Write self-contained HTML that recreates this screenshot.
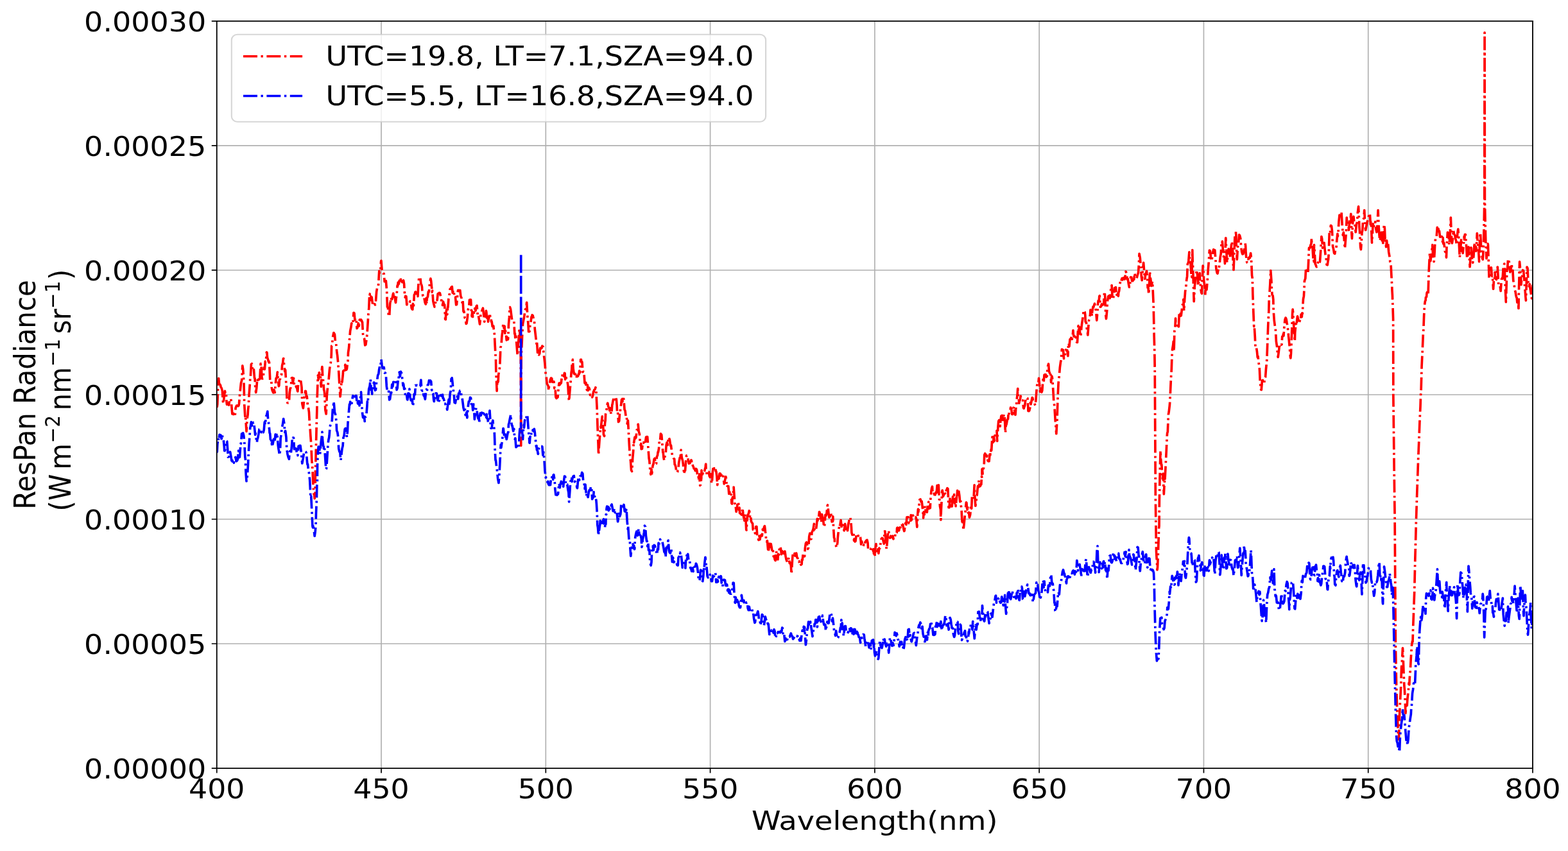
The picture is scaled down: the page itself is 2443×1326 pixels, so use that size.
<!DOCTYPE html>
<html lang="en"><head><meta charset="utf-8"><title>ResPan Radiance spectrum</title>
<style>html,body{margin:0;padding:0;background:#fff;}body{width:2443px;height:1326px;overflow:hidden;}svg{display:block;}text{font-family:'DejaVu Sans','Liberation Sans',sans-serif;fill:#000;}</style>
</head><body>
<svg width="2443" height="1326" viewBox="0 0 2443 1326">
<rect x="0" y="0" width="2443" height="1326" fill="#fff"/>
<path d="M594.03 32.85V1197.05M850.31 32.85V1197.05M1106.59 32.85V1197.05M1362.88 32.85V1197.05M1619.16 32.85V1197.05M1875.44 32.85V1197.05M2131.72 32.85V1197.05" stroke="#b0b0b0" stroke-width="1.66" fill="none"/>
<path d="M337.75 1003.02H2388.00M337.75 808.98H2388.00M337.75 614.95H2388.00M337.75 420.92H2388.00M337.75 226.88H2388.00" stroke="#b0b0b0" stroke-width="1.55" fill="none"/>
<clipPath id="ax"><rect x="309.86" y="32.85" width="1880.96" height="1164.20"/></clipPath>
<g transform="scale(1.0900,1)" clip-path="url(#ax)"><path d="M309.9 633.9L310.3 633.7L310.8 629.9L311.8 598.0L312.5 589.5L313.7 601.9L314.7 595.9L315.5 602.6L316.6 604.5L317.8 609.1L318.5 624.3L319.3 628.8L320.5 617.0L321.5 609.1L322.4 616.1L323.3 614.8L323.8 625.5L324.3 630.4L325.3 628.5L326.2 628.0L326.8 630.4L327.2 631.2L328.2 623.5L329.1 623.3L329.8 622.2L330.1 621.4L331.1 633.5L332.0 645.1L333.0 644.3L333.9 644.3L335.0 649.2L335.9 648.5L336.8 635.5L338.1 632.0L338.8 631.8L339.7 632.8L340.7 632.8L341.1 632.0L341.7 629.6L342.6 616.9L343.3 609.1L344.5 596.6L345.6 592.8L346.6 569.8L347.4 575.3L348.6 596.0L349.3 630.4L350.3 648.9L350.8 646.8L351.3 654.9L352.3 672.2L353.2 652.8L354.2 646.6L354.6 638.6L355.1 633.9L356.1 614.0L357.1 599.7L357.6 589.5L358.0 589.5L359.1 567.4L360.0 566.6L360.9 575.1L361.3 576.4L361.9 578.1L362.8 575.9L363.8 589.4L364.3 589.5L364.8 601.5L365.8 611.6L366.7 605.0L367.7 590.5L368.1 590.3L368.6 595.9L369.6 590.9L370.6 591.1L371.1 591.1L371.5 588.4L372.6 566.5L373.4 569.4L374.4 590.0L374.9 589.5L375.4 589.9L376.3 586.8L377.3 572.6L377.9 574.7L378.3 575.5L379.2 562.9L380.1 563.3L381.1 548.7L381.6 549.5L382.1 556.9L383.1 560.4L384.0 564.0L384.6 560.0L385.0 567.9L385.4 576.4L386.1 594.4L386.9 594.3L387.9 594.2L388.4 604.2L388.9 607.3L389.8 610.1L390.8 612.1L391.7 607.2L392.9 611.6L393.6 600.9L394.6 589.3L395.6 589.2L396.6 579.6L397.5 592.9L398.5 601.7L398.9 600.9L399.4 591.7L400.4 590.7L401.1 586.2L402.3 583.9L403.3 569.4L404.3 565.2L404.9 559.2L405.2 558.4L406.2 569.4L407.2 578.8L407.9 576.4L409.1 599.6L409.4 599.3L410.2 625.5L411.0 627.9L412.0 627.9L413.2 627.1L413.9 612.5L414.7 605.9L415.8 603.5L416.8 589.1L417.7 588.6L418.7 596.9L419.7 589.2L420.6 600.1L421.4 599.3L422.6 598.7L423.5 603.5L424.5 604.4L425.2 609.1L425.5 609.9L426.4 596.5L427.4 594.2L428.2 591.1L429.3 590.3L430.3 595.9L431.2 603.4L431.9 628.8L433.4 636.1L434.1 628.7L435.1 615.0L436.1 614.7L436.4 609.1L437.0 609.3L438.0 618.3L438.7 617.3L439.9 633.0L440.2 633.7L440.9 636.2L441.7 641.9L442.8 665.7L443.2 666.4L443.8 677.7L444.7 691.0L445.7 717.3L446.2 723.7L446.7 730.8L447.7 756.5L448.6 770.0L449.2 769.6L449.7 776.8L450.6 770.0L450.7 740.1L451.5 707.4L452.4 665.9L453.0 641.9L453.4 618.2L453.7 609.1L454.5 584.6L455.3 591.3L456.3 580.5L456.7 581.3L457.2 582.4L458.2 588.5L459.0 602.6L460.1 574.6L460.5 571.5L461.1 584.5L462.0 592.8L463.0 607.4L463.5 609.1L464.0 613.2L465.0 638.6L466.2 645.1L466.9 624.8L467.2 617.3L467.8 609.5L468.7 600.9L469.8 592.3L471.0 576.4L471.7 570.5L472.7 565.6L473.2 560.0L473.6 554.8L474.0 538.8L474.6 538.4L475.6 526.1L476.5 520.8L477.0 518.4L477.5 519.2L478.4 521.0L479.3 532.3L480.4 535.6L481.5 548.6L482.3 554.3L483.3 565.9L483.8 574.7L484.2 579.7L485.3 600.9L486.3 618.1L487.1 609.0L488.3 592.8L489.0 595.3L490.0 585.8L490.5 578.0L491.0 581.2L491.9 577.6L492.9 571.8L493.5 568.2L493.9 576.7L495.0 576.4L495.8 574.8L496.7 565.8L497.3 562.5L497.7 549.5L498.7 542.1L499.5 529.8L500.6 515.6L501.8 509.4L502.5 503.6L503.5 505.7L504.0 504.4L504.4 504.3L505.5 487.2L506.4 487.9L507.3 498.7L507.8 497.9L508.3 500.5L509.3 498.7L510.2 511.8L510.8 511.0L511.2 508.3L512.2 503.6L513.1 508.1L514.1 497.9L514.6 498.7L515.0 502.4L516.0 497.9L517.0 499.6L517.6 502.0L517.9 501.7L518.9 521.6L519.8 525.7L520.8 527.8L521.8 538.0L522.8 537.2L523.7 530.0L524.7 521.4L525.1 514.3L525.6 506.1L526.6 488.3L527.3 480.7L528.1 458.6L528.5 457.8L529.5 467.7L530.3 461.9L531.4 463.1L532.6 474.1L533.3 475.8L534.3 475.8L535.3 473.4L536.3 475.0L537.2 468.4L538.2 454.4L538.6 452.0L539.1 448.6L540.1 447.7L540.8 445.5L542.0 422.3L542.3 425.9L543.0 420.4L543.9 420.0L544.6 407.0L544.9 406.2L545.9 420.2L546.9 423.4L547.8 426.2L548.8 426.2L549.7 438.9L550.6 438.1L551.7 437.6L552.9 453.7L553.6 478.2L554.5 479.4L555.5 493.0L556.6 492.2L557.4 474.6L558.1 466.8L558.4 471.7L559.4 465.5L560.3 466.4L561.3 461.2L561.9 457.8L562.2 457.1L563.2 466.7L564.2 458.7L565.1 469.0L565.6 471.7L566.1 465.5L567.1 458.8L568.0 444.8L568.6 445.5L569.0 440.0L570.0 442.6L570.9 437.2L571.9 440.2L572.8 434.8L573.1 432.4L573.8 437.8L574.8 439.7L575.7 439.7L576.7 436.8L577.6 442.2L578.6 460.6L579.1 463.5L579.6 461.1L580.6 461.7L581.5 474.9L582.1 474.1L582.5 474.3L583.4 474.9L584.4 471.8L585.4 472.1L585.9 470.1L586.3 469.2L587.3 470.4L588.3 480.1L589.2 482.0L589.7 482.3L590.2 473.1L591.1 478.9L592.1 459.2L593.1 457.9L593.4 455.3L594.0 454.5L595.0 461.6L596.0 456.2L597.2 461.9L597.9 446.6L598.9 432.6L599.4 432.4L599.8 431.6L600.8 432.8L601.7 442.1L602.7 444.5L603.2 447.1L603.7 456.8L604.6 461.5L605.6 462.7L606.2 461.9L606.6 465.8L607.5 471.5L608.5 474.1L609.4 464.2L609.9 473.3L610.4 464.4L611.4 462.5L612.3 454.5L612.9 455.3L613.3 453.9L614.3 440.5L615.5 434.0L616.2 437.9L617.2 448.7L617.4 455.3L618.1 453.0L619.1 469.1L620.0 473.6L621.2 478.2L622.0 477.0L622.9 466.0L623.9 466.8L624.2 466.8L624.9 467.6L625.8 457.8L626.8 456.9L627.2 456.9L627.8 456.1L628.7 456.3L629.7 460.9L630.6 466.1L631.0 468.4L631.6 468.9L632.6 475.8L633.5 469.9L634.7 475.0L635.5 474.8L636.4 497.4L637.0 497.9L637.4 488.2L638.3 482.4L639.3 490.0L640.0 478.2L640.3 479.0L641.2 465.6L642.2 460.4L643.2 450.3L644.1 450.2L645.2 447.3L646.1 446.5L647.0 456.3L648.2 452.2L648.9 456.5L649.7 463.7L650.9 462.9L652.0 475.1L652.8 474.7L653.8 461.4L654.2 455.5L654.7 452.2L655.7 452.2L656.7 453.0L657.2 453.0L657.6 452.2L658.6 461.6L659.5 463.7L660.5 471.1L661.0 471.9L661.5 467.2L662.4 485.2L663.2 485.0L664.4 495.3L665.5 496.4L666.3 504.6L667.0 503.8L668.2 494.5L669.2 481.7L670.1 480.4L671.1 467.2L672.2 466.9L673.0 467.0L673.7 481.7L674.5 493.1L675.0 485.2L675.9 493.9L676.9 490.3L677.5 486.6L677.8 487.4L678.8 480.5L679.8 484.2L681.0 476.8L681.7 476.0L682.8 491.5L683.6 490.2L684.6 496.4L685.8 505.4L686.5 497.6L687.3 488.2L688.4 485.9L689.4 482.4L690.3 480.1L691.3 488.9L692.5 501.3L693.3 497.0L694.2 495.9L694.8 484.1L695.2 485.8L696.1 497.4L697.1 490.4L697.8 501.3L698.1 497.8L699.0 495.0L700.0 488.2L701.0 495.6L701.9 495.2L702.3 501.3L702.9 501.1L703.9 508.7L704.8 509.2L705.3 507.9L705.8 513.5L706.8 521.0L707.5 537.4L708.3 553.7L708.7 559.0L709.0 578.3L709.8 597.9L710.2 609.2L710.6 598.4L711.0 601.2L711.6 593.1L712.1 594.7L712.5 583.8L713.6 578.3L714.4 571.4L715.1 553.7L715.4 541.9L716.6 537.4L717.3 525.0L718.1 517.7L719.3 503.8L719.6 504.6L720.2 511.2L721.2 508.0L721.8 519.4L722.2 514.0L723.1 518.8L724.1 530.0L725.0 525.3L726.0 529.1L726.3 527.5L727.1 504.6L727.9 494.9L728.6 479.2L728.9 478.4L729.9 481.9L730.8 489.9L731.8 498.2L732.8 500.1L733.8 499.7L734.7 501.1L735.6 520.4L736.1 519.4L736.6 528.1L737.6 523.9L738.3 534.1L739.5 551.2L739.8 553.7L740.5 538.8L741.3 529.2L742.4 512.5L742.8 511.2L743.3 525.3L744.3 553.7L744.7 694.5L745.1 553.7L746.2 529.2L747.3 504.6L748.2 499.5L749.1 494.9L749.6 491.5L750.1 483.8L751.1 481.7L752.0 480.8L752.9 471.1L754.1 494.8L754.9 503.0L755.6 516.9L756.8 516.8L757.9 504.6L758.8 500.9L759.7 493.4L760.1 494.8L760.7 490.7L761.6 491.5L762.6 496.3L763.6 499.5L763.9 503.0L764.5 513.0L765.4 521.0L766.5 531.6L766.9 535.7L767.4 531.3L768.4 549.3L769.4 542.1L769.9 552.1L770.3 552.9L771.3 551.0L772.1 542.3L773.2 543.1L774.2 542.7L775.1 539.0L776.1 539.9L777.1 550.6L777.4 553.7L778.0 558.3L778.9 566.8L780.0 582.7L780.4 586.4L780.9 587.5L781.9 597.8L782.7 599.5L783.8 601.6L784.2 608.5L784.8 601.9L785.7 598.2L786.4 592.9L786.7 591.3L787.7 588.9L788.7 589.6L789.6 595.4L790.6 595.4L791.7 594.6L792.5 605.2L793.4 603.9L793.9 609.3L794.4 618.7L795.4 620.7L796.2 619.9L797.3 619.0L798.4 602.8L799.2 597.0L800.2 599.5L801.1 596.5L801.4 597.8L802.1 596.7L803.1 587.2L803.7 588.0L804.0 581.0L805.0 585.3L806.0 586.3L806.9 581.1L807.4 581.5L807.9 591.2L808.9 586.1L809.7 591.3L810.8 592.8L811.9 601.1L812.7 618.1L813.4 624.9L814.6 608.4L815.7 594.6L816.6 580.6L817.2 576.5L817.5 569.7L818.7 560.3L819.4 574.5L820.4 582.3L821.0 581.5L821.4 584.8L822.3 581.3L823.3 588.9L824.0 588.8L824.3 586.1L825.2 585.5L826.2 586.1L827.2 582.4L827.7 583.1L828.1 577.6L829.1 580.3L830.0 560.1L830.7 560.2L831.0 564.5L832.0 563.7L833.0 579.8L833.9 579.0L834.9 582.0L835.2 588.0L835.8 597.0L836.8 597.3L837.5 596.2L837.8 604.2L839.0 607.7L839.7 599.7L840.6 608.5L841.6 603.8L842.0 604.4L842.6 606.0L843.5 615.6L844.2 615.9L845.5 615.0L846.5 619.1L847.4 616.1L848.3 610.1L848.7 610.9L849.3 607.6L850.3 607.1L851.3 603.6L852.2 608.5L852.5 617.5L853.3 635.5L854.0 660.0L854.8 684.6L855.1 691.7L855.5 708.4L856.1 698.4L857.0 684.6L858.0 671.5L858.5 665.0L858.9 666.6L859.9 657.1L860.8 648.6L861.8 662.4L862.3 666.6L862.8 677.1L863.8 679.7L864.7 659.2L865.3 655.1L865.7 644.7L866.8 640.4L867.6 632.3L868.3 628.9L868.6 628.1L869.5 633.5L870.5 635.5L871.5 639.8L872.4 635.8L873.5 645.3L874.4 640.7L875.0 630.6L875.3 630.2L876.3 623.9L877.3 620.8L878.2 621.6L879.2 624.5L879.5 619.1L880.1 618.3L881.1 622.9L881.8 632.2L882.1 642.0L883.0 640.7L884.0 657.6L885.0 656.1L885.9 643.1L886.3 643.7L886.9 636.0L887.8 629.9L888.6 622.4L889.8 625.9L890.1 618.3L890.7 617.5L891.7 623.0L892.3 632.2L892.7 638.3L893.6 640.1L894.6 648.6L895.6 647.8L896.5 660.2L897.6 655.1L898.3 668.2L899.4 692.8L900.6 714.1L901.3 716.9L902.3 732.5L902.8 733.7L903.3 734.5L904.3 714.1L905.2 703.3L905.8 687.9L906.1 689.8L907.3 681.3L908.1 683.3L909.0 682.1L909.6 676.4L910.0 670.2L911.0 670.0L912.1 660.9L912.9 671.7L914.1 676.4L914.8 687.4L915.8 694.0L916.3 691.2L916.7 699.8L917.8 699.4L918.7 689.8L919.6 690.5L920.8 687.9L921.6 685.6L922.5 688.5L923.5 680.9L923.9 681.3L924.4 680.5L925.4 680.5L926.1 691.2L927.6 714.1L928.3 718.3L929.1 730.5L930.2 739.4L931.2 731.0L931.8 741.1L932.2 732.5L933.1 725.6L933.6 723.9L934.1 722.4L935.0 715.5L935.9 714.1L937.0 723.1L938.1 722.3L938.9 711.4L939.9 709.4L940.4 704.3L940.8 704.8L941.8 698.8L942.6 684.6L943.7 685.2L944.4 675.6L945.6 677.4L946.4 687.9L947.6 705.4L947.9 704.3L948.5 712.7L949.4 717.4L950.5 710.7L951.6 705.9L952.4 693.5L953.3 689.4L953.9 691.2L954.3 693.5L955.3 681.4L956.1 682.2L957.2 684.9L958.4 694.4L959.1 693.7L959.9 701.0L961.1 710.8L962.2 712.5L963.0 714.4L963.9 714.9L964.4 723.9L964.9 724.0L965.9 727.5L966.7 733.7L967.8 736.2L968.5 735.4L968.8 730.3L969.7 729.0L970.4 720.6L971.7 713.2L972.6 712.5L973.4 701.0L974.5 712.8L975.7 717.4L976.5 723.4L977.4 733.7L977.9 738.6L978.4 734.5L979.4 733.2L980.2 720.6L981.3 709.6L982.4 710.0L983.2 713.2L984.2 719.9L984.7 722.3L985.1 720.8L986.1 721.8L987.1 719.1L988.0 716.8L988.4 717.4L989.0 723.0L990.0 722.5L990.7 728.8L990.8 726.2L991.9 730.2L993.1 731.1L993.8 733.5L994.8 730.3L995.7 731.0L996.1 732.8L996.7 738.5L997.7 740.1L998.3 739.3L998.6 748.7L999.6 738.8L1000.6 756.5L1001.3 755.7L1002.5 745.3L1002.8 732.8L1003.4 740.5L1004.4 738.5L1005.1 737.7L1005.4 738.5L1006.3 738.5L1007.3 732.8L1008.3 728.0L1008.9 722.9L1009.2 731.5L1010.4 739.3L1011.1 738.5L1012.1 735.2L1013.1 735.2L1013.4 736.0L1014.0 741.7L1015.0 743.7L1015.6 740.9L1016.0 738.6L1017.1 753.2L1017.9 749.5L1018.6 736.0L1019.8 726.2L1020.1 727.0L1020.8 730.8L1021.7 728.7L1022.7 728.8L1023.1 734.4L1023.7 734.4L1024.6 741.8L1025.4 755.7L1026.6 745.0L1027.6 745.9L1028.5 737.7L1029.4 737.7L1029.9 738.5L1030.4 741.4L1031.4 739.4L1032.3 737.7L1033.3 740.4L1033.6 740.1L1034.3 746.6L1035.1 754.0L1036.2 748.6L1037.4 742.6L1038.1 745.8L1038.9 758.9L1040.0 757.1L1041.1 757.3L1042.0 769.5L1042.7 768.8L1042.9 766.5L1043.9 767.0L1044.9 765.5L1045.8 784.5L1046.4 785.1L1046.8 776.4L1047.8 773.1L1048.7 758.9L1049.7 774.3L1050.2 781.9L1050.6 789.8L1051.6 789.6L1052.4 797.4L1053.5 790.4L1054.7 781.9L1055.5 782.9L1056.4 794.7L1056.9 790.9L1057.4 799.7L1058.3 799.7L1059.2 801.5L1060.3 802.3L1061.4 791.7L1062.2 800.5L1063.2 807.2L1063.7 806.4L1064.1 811.3L1065.2 801.5L1066.1 811.6L1066.7 825.3L1067.0 826.1L1068.2 806.4L1068.9 802.2L1069.9 800.8L1070.9 795.8L1071.2 796.6L1071.8 805.0L1072.8 802.2L1073.4 808.1L1073.8 812.5L1074.9 814.6L1075.7 815.4L1076.4 825.3L1077.6 825.1L1078.6 827.5L1079.4 831.0L1080.5 820.4L1081.0 821.2L1081.5 820.4L1082.4 835.1L1083.2 835.9L1084.4 841.6L1085.3 835.1L1086.2 840.8L1087.2 834.3L1088.2 834.6L1089.2 835.1L1090.1 824.7L1091.1 829.9L1091.5 826.1L1092.1 821.4L1093.0 819.5L1094.0 828.3L1094.5 831.0L1095.0 839.9L1095.9 844.1L1096.7 842.5L1097.8 856.4L1098.8 856.7L1099.7 844.1L1100.7 852.5L1101.7 848.4L1102.0 847.4L1102.7 851.8L1103.5 857.2L1104.6 854.6L1105.7 867.0L1106.5 866.2L1107.5 871.8L1108.0 872.7L1108.4 873.5L1109.5 858.8L1110.4 862.8L1111.3 861.5L1111.8 871.9L1112.3 863.1L1113.3 864.5L1114.3 852.3L1115.2 851.5L1116.1 855.3L1117.0 863.7L1118.1 858.7L1119.0 860.5L1120.0 857.2L1121.0 865.7L1121.9 859.0L1123.0 867.0L1123.9 871.9L1124.8 874.5L1125.3 876.0L1125.8 873.7L1126.7 872.5L1127.5 868.6L1128.7 877.9L1129.8 876.8L1130.6 881.7L1131.3 894.0L1131.6 889.2L1132.8 868.6L1133.5 861.3L1134.4 865.2L1135.4 867.6L1135.8 862.1L1136.4 866.2L1137.3 863.4L1138.3 861.9L1138.8 865.4L1139.3 868.7L1140.2 869.6L1141.0 875.2L1142.2 874.4L1143.3 880.1L1144.1 878.4L1145.0 880.1L1146.0 879.0L1146.3 871.9L1147.0 872.7L1147.8 863.7L1148.9 863.2L1150.1 867.0L1150.8 853.9L1151.8 846.4L1152.8 844.9L1153.1 845.7L1153.7 849.0L1154.6 855.5L1155.6 853.4L1156.1 845.7L1156.6 836.1L1157.6 831.0L1158.5 840.1L1159.5 840.0L1159.8 839.2L1160.5 829.5L1161.3 827.7L1162.4 824.4L1163.6 816.2L1164.3 826.2L1165.1 826.1L1166.2 826.9L1167.3 817.9L1168.2 808.2L1169.1 813.9L1169.6 806.4L1170.1 807.8L1171.1 797.4L1172.0 799.8L1173.0 807.2L1173.3 813.0L1173.9 813.8L1174.8 801.5L1175.9 806.1L1176.8 811.2L1177.8 821.2L1178.8 817.7L1179.3 809.7L1179.7 802.2L1180.7 803.6L1181.6 799.9L1182.6 788.7L1183.1 786.8L1183.6 791.6L1184.5 801.0L1185.3 806.4L1186.5 804.6L1187.6 798.2L1188.4 804.9L1189.1 813.0L1190.3 812.6L1190.6 804.8L1191.4 822.8L1192.2 837.9L1192.9 839.2L1193.2 848.6L1194.4 849.8L1195.1 850.6L1195.9 853.1L1197.1 845.7L1197.4 839.2L1198.0 832.3L1198.9 826.1L1200.0 816.6L1200.4 817.9L1200.9 817.7L1201.9 810.5L1202.8 820.3L1203.8 823.1L1204.1 819.5L1204.8 818.0L1205.7 819.8L1206.4 826.1L1206.7 826.9L1207.9 816.2L1208.6 821.7L1209.6 826.9L1210.1 826.1L1210.6 820.8L1211.5 826.9L1212.4 817.9L1213.4 812.8L1214.4 806.6L1215.4 806.4L1216.3 813.1L1216.9 821.2L1217.3 830.1L1218.3 833.4L1219.1 829.4L1220.2 831.7L1220.7 842.5L1221.1 839.7L1222.1 844.1L1222.9 843.3L1224.0 833.5L1224.4 834.3L1225.0 832.6L1226.0 832.6L1226.9 835.1L1228.2 833.4L1228.9 833.5L1229.8 837.2L1230.4 842.5L1230.8 848.2L1231.7 843.4L1232.7 849.0L1233.7 851.4L1234.6 848.8L1235.7 850.6L1236.6 844.9L1237.5 843.4L1238.7 841.6L1239.4 841.3L1240.4 845.8L1240.9 855.5L1241.4 856.4L1242.3 856.4L1243.3 854.8L1243.9 854.7L1244.3 855.4L1245.2 855.5L1246.2 853.9L1247.2 853.1L1248.1 858.7L1248.4 855.5L1249.1 862.9L1250.0 857.0L1250.7 867.0L1251.0 857.1L1252.2 847.4L1252.9 856.2L1253.9 861.8L1254.4 862.1L1254.9 855.6L1255.8 862.3L1256.7 853.9L1257.8 854.2L1259.0 844.1L1259.7 839.8L1260.6 838.4L1261.2 839.2L1261.6 838.4L1262.6 843.2L1263.5 847.4L1264.5 827.6L1265.0 827.7L1265.5 834.5L1266.4 847.7L1267.2 855.5L1268.3 842.9L1269.5 827.7L1270.3 826.9L1271.2 837.4L1271.7 837.5L1272.2 838.3L1273.2 835.1L1274.1 836.6L1274.7 835.9L1275.1 837.6L1276.1 835.1L1277.0 840.0L1277.7 839.2L1278.9 840.0L1280.0 829.4L1280.9 830.1L1281.8 829.9L1282.2 822.8L1282.8 822.0L1283.8 826.5L1284.7 826.9L1285.2 826.1L1285.7 820.4L1286.7 824.1L1287.5 817.9L1288.6 816.3L1289.5 818.7L1290.5 817.1L1291.5 823.6L1292.4 827.7L1292.8 826.9L1293.4 820.9L1294.4 815.0L1295.0 811.3L1295.3 817.5L1296.3 805.6L1297.3 806.4L1298.2 805.6L1299.2 815.4L1300.3 814.6L1301.1 815.4L1302.1 802.4L1302.5 804.8L1303.0 810.2L1304.0 803.1L1305.0 803.0L1305.9 806.4L1306.9 807.2L1307.8 806.4L1308.8 805.6L1309.8 808.4L1310.8 821.2L1311.7 801.4L1312.3 793.3L1312.7 797.8L1313.6 789.2L1314.5 778.6L1315.6 777.8L1316.5 781.9L1317.5 781.0L1318.4 788.4L1319.4 800.2L1319.8 807.2L1320.4 797.5L1321.3 801.8L1322.0 788.4L1323.3 797.2L1324.2 794.9L1325.1 798.2L1326.1 786.5L1327.3 781.9L1328.1 792.5L1329.0 787.8L1329.6 791.7L1330.0 779.4L1331.1 765.5L1331.9 760.0L1332.6 758.1L1332.9 763.4L1333.9 769.5L1334.8 770.4L1335.8 766.3L1336.7 771.2L1337.8 767.1L1338.7 767.9L1339.6 756.2L1340.1 762.2L1340.6 765.3L1341.6 755.7L1342.5 777.7L1343.1 778.6L1343.5 788.4L1344.5 794.1L1344.8 810.1L1345.3 794.1L1345.9 781.9L1346.4 766.2L1347.0 763.9L1347.3 766.3L1348.1 773.7L1349.3 770.2L1350.0 765.5L1351.1 769.6L1352.2 770.4L1352.6 763.9L1353.1 763.4L1354.1 760.6L1354.9 761.4L1355.7 781.9L1356.0 790.9L1356.4 790.0L1357.0 790.9L1357.9 775.3L1358.9 781.3L1359.9 780.3L1360.2 789.2L1360.8 789.1L1362.0 773.7L1362.8 776.3L1363.9 770.4L1364.7 784.2L1365.6 776.7L1366.2 788.8L1366.6 783.9L1367.6 772.8L1368.0 772.0L1368.5 764.1L1369.5 770.8L1370.3 764.3L1371.4 772.3L1372.2 781.9L1373.3 781.1L1373.7 788.4L1374.3 791.8L1374.8 804.8L1375.3 812.8L1376.3 814.6L1377.1 826.1L1378.2 814.6L1379.3 802.3L1380.1 795.5L1380.4 790.0L1381.1 782.7L1381.6 783.5L1382.0 791.0L1382.7 794.1L1383.0 788.8L1383.9 799.2L1384.9 798.2L1385.7 806.4L1386.8 802.1L1387.2 797.4L1387.8 787.5L1388.7 792.5L1389.4 773.7L1389.7 773.5L1390.6 772.0L1391.7 777.8L1392.8 755.7L1393.6 775.7L1394.3 788.4L1395.5 779.8L1395.8 772.0L1396.5 771.7L1397.0 765.5L1397.7 757.3L1398.4 759.4L1399.2 748.3L1400.3 758.1L1400.7 756.5L1401.3 757.3L1402.2 753.8L1402.6 754.9L1403.2 742.0L1403.7 745.0L1403.7 731.1L1404.2 730.4L1404.5 738.5L1405.1 731.1L1406.0 729.5L1406.7 722.1L1407.1 708.5L1407.5 708.2L1408.0 706.6L1408.6 707.4L1409.0 708.5L1410.0 706.6L1410.5 711.5L1410.9 710.0L1412.0 718.0L1412.8 718.8L1413.5 716.4L1413.8 718.8L1415.0 704.1L1415.7 709.1L1416.7 700.2L1417.2 701.6L1417.6 693.9L1418.3 680.8L1418.6 684.9L1419.6 689.2L1420.6 680.1L1421.3 687.4L1422.5 676.6L1423.6 675.9L1424.4 674.9L1424.8 671.0L1425.4 687.4L1426.6 664.4L1427.3 656.0L1428.1 654.6L1429.2 657.2L1429.6 664.4L1430.2 655.7L1431.1 648.1L1432.1 647.3L1433.3 654.6L1434.0 651.1L1435.0 645.6L1435.6 646.4L1436.0 649.3L1437.1 674.3L1437.9 662.8L1438.6 661.2L1439.8 654.0L1440.8 653.0L1441.7 642.1L1442.3 644.8L1442.7 642.8L1443.7 642.0L1444.6 635.0L1445.6 637.4L1446.6 645.6L1446.9 644.8L1447.5 645.6L1448.5 635.9L1449.4 633.4L1449.9 634.1L1450.4 643.0L1451.4 646.4L1452.3 632.6L1452.9 631.7L1453.3 623.1L1454.3 614.1L1454.8 605.5L1455.2 618.7L1456.2 619.8L1456.6 628.4L1457.2 625.2L1458.1 622.8L1458.9 617.0L1460.0 623.3L1461.1 623.5L1462.0 623.9L1462.9 635.6L1463.4 636.6L1463.9 634.6L1464.9 631.6L1465.6 625.1L1466.8 619.4L1467.9 620.2L1468.7 620.6L1469.4 631.7L1469.7 640.5L1470.6 640.7L1471.3 639.9L1472.6 633.9L1473.1 623.5L1473.5 630.0L1474.5 624.3L1475.5 619.4L1476.1 620.2L1476.4 624.2L1477.4 626.1L1478.4 626.8L1479.3 630.7L1479.9 631.7L1480.3 629.6L1481.4 612.0L1482.2 601.3L1482.9 597.3L1484.1 598.0L1484.9 589.1L1486.1 601.8L1486.7 610.4L1487.0 604.6L1488.0 608.0L1488.9 611.2L1489.7 608.8L1490.9 591.3L1491.2 592.4L1491.8 596.0L1492.7 584.2L1493.8 583.4L1494.7 583.5L1495.7 587.5L1496.7 585.6L1497.2 572.8L1497.6 571.4L1498.7 567.0L1499.5 578.5L1500.5 581.5L1500.9 579.3L1501.5 579.1L1502.4 595.7L1503.4 585.9L1503.9 587.5L1504.4 591.6L1505.4 608.8L1506.3 626.9L1506.9 630.0L1507.2 632.5L1508.4 654.6L1509.2 664.4L1509.9 675.9L1511.0 654.6L1511.9 621.9L1512.9 597.3L1514.0 585.6L1514.4 580.9L1515.0 572.6L1516.0 564.6L1516.9 560.0L1517.4 549.8L1517.8 544.1L1519.0 544.9L1519.8 545.3L1520.7 558.8L1521.2 558.0L1521.7 556.9L1522.7 549.8L1523.5 544.9L1524.6 546.5L1525.6 545.8L1526.5 554.7L1527.1 536.8L1527.5 534.8L1528.4 539.8L1529.4 528.6L1530.4 528.0L1531.3 525.6L1531.6 523.7L1532.3 528.6L1533.3 523.1L1533.9 514.7L1534.2 521.0L1535.2 524.4L1536.1 523.7L1537.1 529.0L1538.1 525.7L1539.0 533.4L1539.9 533.6L1541.0 512.3L1541.4 507.4L1541.9 515.3L1542.9 509.7L1543.9 520.2L1544.4 523.7L1544.8 524.5L1545.8 509.9L1546.7 502.4L1547.7 495.6L1548.9 484.4L1549.6 483.6L1550.6 485.9L1551.2 491.0L1551.6 501.4L1552.7 502.4L1553.5 512.2L1554.4 516.0L1554.9 522.1L1555.4 514.7L1556.4 499.2L1557.3 496.8L1558.3 490.0L1558.7 482.8L1559.3 490.7L1560.2 486.3L1560.9 492.6L1561.2 485.7L1562.4 477.9L1563.1 478.6L1564.1 474.7L1564.7 473.0L1565.0 477.3L1566.0 480.1L1567.0 490.1L1567.7 499.2L1568.9 483.3L1569.2 474.6L1569.9 468.4L1570.8 469.2L1571.4 461.5L1571.8 460.7L1572.8 478.3L1573.7 477.9L1574.7 473.8L1575.6 475.4L1576.7 474.6L1577.6 473.7L1578.5 454.6L1578.9 455.0L1579.5 460.8L1580.5 490.9L1581.2 496.7L1582.4 483.1L1582.7 471.3L1583.3 467.6L1584.2 461.5L1585.3 460.7L1586.4 464.8L1587.2 459.9L1588.2 445.9L1588.7 445.1L1589.1 444.6L1590.1 465.1L1591.0 466.4L1592.0 459.9L1593.2 448.4L1593.9 450.2L1594.9 447.6L1595.5 456.6L1595.9 455.4L1596.8 462.3L1597.8 457.3L1598.5 461.5L1598.8 456.3L1599.7 453.2L1600.7 443.5L1601.7 436.5L1602.6 438.2L1603.7 433.7L1604.5 436.1L1605.5 432.9L1606.5 434.5L1607.5 435.3L1608.4 428.9L1609.0 423.0L1609.4 423.2L1610.3 426.6L1611.2 435.3L1612.2 434.5L1613.2 442.4L1614.2 447.6L1615.0 446.8L1616.1 431.8L1617.2 432.0L1618.0 437.8L1619.0 437.8L1619.5 436.9L1620.0 435.2L1620.9 435.6L1621.8 425.5L1622.8 431.0L1623.8 431.6L1624.8 433.7L1625.7 429.6L1626.7 426.1L1627.0 425.5L1627.7 415.3L1628.5 395.2L1629.6 401.5L1630.8 417.3L1631.5 430.5L1632.3 436.9L1633.4 422.3L1634.5 409.1L1635.4 421.1L1636.3 434.5L1636.8 433.7L1637.3 426.8L1638.3 424.6L1639.0 422.2L1640.2 438.8L1640.5 448.4L1641.1 445.3L1642.0 458.2L1643.1 435.8L1643.5 423.0L1644.0 429.8L1645.0 436.9L1646.0 445.6L1646.9 439.9L1647.3 438.6L1648.0 455.0L1648.8 474.6L1649.2 495.9L1649.7 523.7L1650.3 548.3L1650.7 577.0L1650.7 577.0L1651.2 680.0L1651.7 777.0L1652.8 860.0L1653.7 877.0L1654.1 888.0L1654.6 884.1L1655.5 860.0L1656.6 821.6L1656.9 820.0L1657.2 780.0L1657.8 745.0L1658.5 712.8L1658.8 702.4L1659.4 717.7L1660.1 725.0L1660.4 723.9L1661.7 746.0L1662.6 738.0L1663.6 770.0L1664.3 755.3L1665.0 745.0L1665.2 746.4L1666.1 727.0L1667.2 702.4L1668.1 679.6L1668.5 674.6L1669.1 673.0L1670.0 646.3L1670.8 641.9L1672.0 630.5L1673.0 609.0L1673.9 587.0L1674.6 575.0L1675.1 556.5L1675.8 543.7L1676.8 537.6L1677.3 531.9L1677.8 539.9L1678.1 546.7L1678.8 515.5L1679.7 512.0L1680.3 495.9L1680.6 501.3L1681.6 500.8L1682.6 505.7L1683.5 508.0L1684.5 505.6L1684.8 509.0L1685.6 487.7L1686.4 496.6L1687.4 488.5L1687.8 491.0L1688.3 491.8L1689.3 482.8L1690.1 474.6L1691.2 475.1L1691.6 466.4L1692.4 484.4L1693.2 468.0L1693.9 458.2L1694.1 454.5L1695.4 445.1L1696.1 436.2L1696.9 430.4L1697.6 409.1L1698.0 411.7L1698.9 406.7L1699.9 392.8L1700.9 406.7L1701.4 405.9L1701.8 410.5L1702.8 427.7L1703.6 432.0L1704.4 389.5L1704.7 404.7L1705.1 414.0L1705.7 435.4L1706.6 469.7L1707.6 446.3L1708.1 441.9L1708.6 433.4L1709.5 431.8L1710.4 420.6L1711.5 427.6L1712.6 445.1L1713.4 439.5L1714.4 435.0L1714.9 425.5L1715.3 435.0L1716.4 450.1L1717.2 456.0L1717.9 457.4L1718.2 444.3L1719.4 414.0L1720.1 420.1L1720.9 438.6L1722.1 446.0L1722.7 461.5L1723.0 452.6L1724.0 450.7L1724.7 451.7L1725.0 448.7L1726.2 432.0L1726.9 419.7L1727.7 409.1L1728.8 389.9L1729.2 390.3L1729.8 391.4L1730.7 400.6L1731.4 405.9L1731.7 406.6L1732.7 401.1L1733.7 392.8L1734.6 388.7L1735.6 389.7L1735.9 389.5L1736.5 389.6L1737.4 402.6L1738.4 418.6L1739.7 425.5L1740.4 426.3L1741.3 420.4L1741.9 417.3L1742.3 418.4L1743.3 410.6L1744.2 400.9L1745.2 395.0L1746.1 375.9L1746.4 376.4L1747.1 376.0L1748.1 389.8L1748.7 389.5L1749.0 400.1L1750.0 397.6L1750.9 410.8L1752.1 370.6L1752.9 387.7L1753.9 409.1L1754.8 401.6L1755.8 389.7L1756.2 387.8L1756.7 395.4L1757.7 391.8L1758.4 402.6L1759.6 386.7L1760.7 376.4L1761.6 384.7L1762.2 392.8L1762.5 408.5L1763.3 420.6L1764.4 389.6L1765.2 364.9L1766.4 364.5L1766.7 360.0L1767.3 386.6L1768.2 404.2L1769.3 383.8L1769.7 381.3L1770.2 379.6L1771.2 365.8L1772.0 366.6L1773.1 371.2L1774.2 386.2L1775.0 392.6L1776.0 396.0L1776.5 395.2L1777.0 395.8L1777.9 391.7L1778.7 387.8L1779.9 385.1L1780.2 378.0L1780.8 393.5L1781.8 406.3L1782.5 409.1L1783.7 409.9L1784.7 402.1L1785.5 400.9L1786.6 401.9L1787.7 394.4L1788.5 401.9L1788.9 412.4L1789.5 429.2L1790.0 432.0L1790.5 444.8L1790.7 458.2L1791.5 482.8L1792.4 508.7L1792.7 507.4L1793.3 514.3L1793.8 523.7L1794.5 540.1L1795.3 539.2L1796.2 543.8L1796.8 548.3L1797.2 553.0L1797.5 556.5L1798.2 555.3L1799.0 564.7L1800.1 570.8L1800.5 578.0L1801.1 594.0L1802.2 606.7L1803.0 607.5L1804.1 593.0L1804.9 592.2L1805.9 595.2L1806.9 598.0L1807.8 589.0L1808.8 587.5L1809.6 575.0L1810.7 563.5L1811.0 556.5L1811.8 531.9L1812.6 507.5L1813.3 491.0L1813.6 485.7L1814.0 466.4L1814.5 459.7L1815.5 441.9L1816.3 421.4L1817.4 438.7L1817.8 450.1L1818.4 459.2L1819.4 460.9L1820.0 466.4L1820.3 481.9L1820.8 491.0L1821.3 499.0L1822.3 507.4L1823.2 511.8L1823.8 523.7L1824.2 532.0L1825.3 540.1L1826.1 550.2L1826.8 556.5L1828.0 546.4L1829.0 536.8L1830.0 536.0L1830.9 537.6L1832.1 536.8L1832.8 524.1L1833.8 524.1L1834.3 520.5L1834.8 523.4L1835.8 507.4L1836.7 498.1L1837.7 495.1L1838.1 495.9L1838.6 497.3L1839.6 504.0L1840.3 507.4L1841.5 518.5L1841.8 523.7L1842.5 530.7L1843.3 540.1L1844.4 555.9L1844.8 558.1L1845.4 550.4L1846.3 523.7L1847.3 489.6L1847.8 482.0L1848.3 487.4L1849.3 507.4L1850.2 523.3L1850.8 531.9L1851.1 518.3L1852.3 504.1L1853.1 507.5L1854.0 497.7L1854.6 492.6L1855.0 494.5L1856.0 499.0L1856.8 504.1L1857.9 500.0L1859.1 500.8L1859.8 489.7L1860.8 493.9L1861.3 487.7L1861.7 488.9L1862.8 466.4L1863.7 461.2L1864.3 448.4L1864.6 438.0L1865.9 433.7L1866.6 418.6L1867.4 417.3L1868.5 421.6L1869.6 425.5L1870.4 405.6L1871.1 386.2L1872.4 386.4L1873.3 382.0L1874.3 379.7L1874.7 370.9L1875.2 383.0L1876.2 386.4L1877.2 405.9L1878.0 407.7L1878.4 381.5L1879.1 391.8L1879.9 411.0L1881.0 413.4L1881.4 415.1L1882.0 415.9L1882.9 414.4L1883.7 409.4L1884.9 406.9L1885.8 410.1L1886.7 407.7L1887.8 391.0L1888.9 368.4L1889.7 372.4L1890.4 386.4L1891.6 379.8L1892.7 378.2L1893.5 386.8L1894.5 396.4L1894.9 397.9L1895.5 401.5L1896.4 412.6L1897.4 413.1L1898.3 406.3L1898.7 404.4L1899.3 394.8L1900.2 361.9L1901.2 364.1L1902.2 351.2L1903.2 352.0L1904.1 359.7L1904.7 375.0L1905.1 383.9L1906.1 388.4L1907.0 394.6L1908.0 395.4L1908.9 388.2L1910.0 386.4L1910.9 374.1L1911.8 364.1L1912.2 368.4L1912.8 363.9L1913.7 345.5L1914.7 334.9L1915.7 340.1L1916.7 335.0L1917.5 330.8L1918.6 352.6L1919.0 355.3L1919.5 366.5L1920.5 362.1L1921.2 371.7L1922.4 387.2L1923.4 373.5L1924.2 361.9L1925.0 338.9L1925.3 345.1L1926.3 342.6L1927.2 347.2L1928.0 358.6L1929.2 342.8L1930.1 347.4L1931.0 333.2L1932.1 365.1L1932.5 371.7L1933.0 358.9L1934.0 341.2L1934.8 337.3L1935.9 349.0L1936.9 351.8L1937.8 361.9L1938.8 349.9L1940.0 345.5L1940.7 331.2L1941.8 321.8L1942.7 343.7L1943.0 353.7L1943.6 360.6L1944.6 385.3L1945.3 388.9L1945.6 384.8L1946.8 361.9L1947.5 359.1L1948.3 342.2L1949.4 340.5L1950.2 327.5L1951.3 352.9L1952.0 358.6L1953.3 351.4L1954.3 345.5L1955.2 343.1L1956.1 338.4L1957.3 333.2L1958.1 332.4L1959.0 349.9L1959.5 345.5L1960.0 349.9L1961.0 378.2L1961.9 361.7L1962.5 348.8L1962.9 351.3L1963.9 351.9L1964.8 347.0L1965.6 345.5L1966.7 356.4L1967.8 361.9L1968.7 351.8L1969.8 327.5L1970.8 353.7L1971.6 366.6L1972.3 375.0L1973.5 370.8L1974.6 361.9L1975.4 375.0L1976.4 370.9L1976.8 381.5L1977.3 370.7L1978.3 349.6L1979.3 356.0L1979.8 371.7L1980.2 369.7L1981.3 384.8L1982.2 374.8L1983.1 385.4L1983.6 378.2L1984.1 380.5L1985.1 393.0L1986.0 398.4L1986.6 401.2L1987.0 408.3L1988.1 411.0L1988.8 427.4L1989.6 443.7L1989.9 452.8L1990.3 460.1L1990.8 476.5L1991.4 496.9L1991.6 615.0L1992.8 731.4L1993.7 808.8L1994.8 1003.0L1995.6 1047.8L1996.1 1074.0L1996.6 1092.2L1997.5 1118.9L1998.5 1141.5L1999.5 1152.3L2000.5 1113.8L2000.9 1104.0L2001.4 1092.5L2002.3 1074.0L2003.3 1039.0L2003.7 1037.0L2004.3 1024.3L2005.0 1009.7L2005.3 1014.9L2006.3 1044.6L2007.2 1068.7L2007.7 1074.0L2008.2 1086.0L2009.1 1111.4L2010.1 1097.8L2011.1 1101.3L2011.8 1089.0L2013.0 1078.3L2013.9 1063.9L2014.5 1067.0L2014.9 1056.6L2015.9 1044.6L2016.8 1024.8L2017.2 1019.0L2017.8 1006.2L2018.8 999.2L2019.3 1000.0L2019.7 982.6L2020.7 953.6L2021.7 923.7L2022.8 870.0L2023.6 838.4L2024.3 808.8L2025.5 767.7L2026.5 737.6L2027.2 715.7L2028.4 682.8L2029.4 653.9L2030.3 633.2L2030.8 615.0L2031.3 607.5L2032.2 570.2L2033.2 547.4L2034.2 521.4L2034.7 514.6L2035.4 492.9L2036.1 476.5L2037.1 469.1L2037.7 468.3L2038.0 463.3L2039.0 462.6L2039.9 451.9L2040.9 459.3L2041.4 458.5L2042.2 427.4L2042.9 411.0L2043.7 394.6L2044.8 406.8L2045.2 402.8L2045.7 400.3L2046.7 389.8L2047.4 381.5L2048.6 403.5L2049.7 407.7L2050.6 392.7L2051.2 378.2L2051.5 375.0L2052.5 369.4L2053.4 368.4L2054.4 354.2L2055.4 362.1L2055.7 352.9L2056.3 360.5L2057.3 359.7L2057.9 365.1L2058.3 369.2L2059.2 369.2L2060.2 368.4L2061.1 368.6L2062.1 377.1L2062.4 370.1L2063.1 379.8L2063.9 378.2L2065.0 386.6L2065.4 391.3L2066.0 392.8L2066.9 393.2L2067.4 401.2L2067.9 384.0L2068.9 367.0L2069.2 361.9L2069.8 362.7L2070.8 368.8L2071.4 381.5L2071.7 379.7L2072.7 365.2L2073.7 338.9L2074.6 366.3L2075.2 378.2L2075.6 379.0L2076.6 372.3L2077.5 358.6L2078.5 364.7L2079.7 366.8L2080.4 371.8L2081.4 375.4L2082.0 381.5L2082.3 377.3L2083.3 364.1L2084.2 356.9L2085.2 371.6L2086.5 401.2L2087.2 392.1L2088.1 382.2L2088.7 371.7L2089.1 376.7L2090.0 389.0L2091.0 394.6L2092.0 382.6L2092.9 368.1L2093.2 373.3L2093.9 365.1L2094.7 365.1L2095.8 380.1L2097.0 402.8L2097.8 397.5L2098.7 387.2L2099.2 384.8L2099.7 394.9L2100.6 404.5L2101.0 415.9L2101.6 406.9L2102.6 385.6L2103.0 386.4L2103.5 394.9L2104.5 407.6L2105.2 409.4L2106.4 398.9L2107.5 378.2L2108.3 389.1L2109.3 383.9L2109.8 391.3L2110.3 389.4L2111.3 363.5L2112.2 378.2L2113.2 386.6L2114.3 407.7L2115.1 376.6L2115.8 363.5L2116.1 362.7L2117.0 383.0L2118.0 394.6L2118.9 402.8L2119.5 404.4L2119.9 399.2L2120.6 378.2L2120.9 367.6L2121.3 345.5L2121.8 312.8L2122.1 50.8L2122.4 312.8L2123.0 345.5L2123.7 378.2L2124.8 402.8L2125.7 394.5L2126.7 379.7L2127.0 381.5L2127.8 407.7L2128.5 433.9L2129.5 430.3L2130.8 417.5L2131.5 416.7L2132.4 429.7L2133.0 430.6L2133.4 429.9L2134.5 450.3L2135.3 435.7L2136.3 436.5L2136.8 424.1L2137.2 433.3L2138.2 434.8L2139.0 435.6L2140.1 416.9L2140.6 415.9L2141.1 425.6L2142.0 443.7L2143.0 444.5L2144.0 444.0L2145.1 453.6L2145.9 440.6L2146.9 429.8L2147.3 430.6L2147.8 434.6L2148.8 416.6L2149.8 412.7L2150.3 411.0L2150.7 418.1L2151.7 450.1L2152.6 470.8L2153.6 435.4L2154.1 419.2L2154.6 420.0L2155.6 403.6L2156.3 404.4L2157.5 409.8L2158.6 424.1L2159.4 420.8L2160.4 414.9L2160.8 411.0L2161.3 422.0L2162.3 421.3L2163.1 437.2L2164.2 442.6L2165.3 451.9L2166.1 454.5L2167.1 461.2L2167.6 463.4L2168.1 463.8L2169.0 475.4L2170.0 470.9L2170.6 480.6L2171.0 455.3L2172.1 407.7L2172.9 417.5L2173.9 429.2L2174.3 443.7L2174.8 437.2L2175.8 430.4L2176.6 420.8L2177.7 422.2L2178.9 437.2L2179.6 447.3L2180.6 462.2L2181.1 468.3L2181.6 453.4L2182.6 415.9L2183.5 418.0L2184.4 440.3L2184.9 440.5L2185.4 446.0L2186.4 442.7L2187.1 448.6L2188.3 456.8L2189.4 465.0L2190.2 456.3L2190.8 443.7" fill="none" stroke="#ff0000" stroke-width="3.4" stroke-dasharray="20.16 5.04 3.15 5.04" stroke-linejoin="round"/></g>
<g transform="scale(1.0900,1)" clip-path="url(#ax)"><path d="M309.9 700.3L310.3 704.1L310.8 692.9L311.8 682.8L312.8 686.5L313.7 677.1L314.7 680.6L315.5 677.9L316.6 683.9L317.6 677.4L318.5 684.4L319.5 685.1L320.5 696.3L320.8 702.5L321.4 702.5L322.4 697.1L323.3 686.9L324.5 687.7L325.3 698.8L326.0 712.3L327.2 711.8L328.2 705.2L329.0 704.1L330.1 710.8L331.1 718.0L332.0 717.2L333.0 721.8L333.9 719.6L334.3 721.3L334.9 715.7L335.9 713.5L336.6 712.3L336.8 713.2L337.8 718.8L338.8 718.0L339.7 716.1L340.7 702.1L341.1 702.5L341.7 713.1L342.6 712.3L343.6 697.4L344.1 691.0L344.5 691.2L345.5 675.9L346.6 675.4L347.4 674.6L348.4 678.7L349.3 687.7L350.3 712.5L350.8 715.5L351.3 733.7L351.6 740.1L352.3 749.9L353.2 745.2L354.2 730.7L354.6 723.7L355.1 710.1L356.1 691.0L357.1 675.1L357.6 666.4L358.0 665.2L359.1 657.4L360.0 663.4L360.9 656.8L361.9 659.0L362.8 658.2L363.8 667.1L364.8 677.5L365.1 674.6L365.7 678.8L366.7 688.2L367.3 689.4L367.7 685.0L368.6 682.3L369.6 676.2L370.6 668.9L371.5 668.9L371.9 669.7L372.5 668.9L373.4 673.8L374.4 671.4L375.6 673.0L376.3 673.8L377.3 669.8L377.9 661.5L378.3 657.5L379.2 661.7L380.1 649.2L381.1 647.0L382.4 641.0L383.1 653.4L383.9 658.2L385.0 669.1L385.4 674.6L386.0 675.6L386.9 689.4L387.9 686.3L388.4 692.6L388.9 686.9L389.8 692.4L390.8 686.9L391.7 680.5L392.1 687.7L392.7 688.5L393.7 676.8L394.4 681.2L395.6 675.1L395.9 674.6L396.6 681.8L397.5 694.4L398.1 699.2L398.5 701.5L399.6 709.0L400.4 702.6L401.1 682.8L402.3 675.0L402.6 668.1L403.3 665.2L404.3 660.1L405.2 652.5L406.2 659.5L407.2 673.6L407.9 671.3L409.1 681.1L409.4 689.4L410.0 700.1L410.9 707.4L412.0 712.1L413.2 715.5L413.9 703.9L414.9 702.4L415.4 702.5L415.8 706.6L416.8 698.0L417.8 682.0L418.4 682.8L418.7 682.0L419.7 682.0L420.6 700.0L421.4 699.2L422.6 698.4L423.5 699.3L424.4 709.0L425.5 709.8L426.7 695.1L427.4 694.8L428.3 694.3L429.3 694.3L429.7 697.5L430.3 702.3L431.2 712.4L431.9 722.1L433.2 714.5L434.2 707.4L435.1 703.3L436.1 703.3L437.2 704.1L438.0 706.3L438.9 718.4L439.4 723.7L439.9 723.2L440.9 733.8L441.7 736.8L442.8 747.8L443.2 756.5L443.8 771.0L444.5 775.0L444.7 772.9L445.9 800.0L446.7 819.9L447.2 822.0L447.6 816.9L448.6 824.5L449.7 835.4L450.5 829.6L450.9 825.0L451.5 814.3L451.8 800.0L452.6 780.0L453.0 756.5L453.5 750.0L453.7 723.7L454.4 704.9L455.2 695.9L456.3 696.3L457.5 707.4L458.2 697.0L459.0 687.7L460.1 679.0L460.5 673.0L461.1 685.8L462.1 695.0L462.7 695.9L463.0 703.2L464.0 699.7L465.0 715.5L465.9 731.1L466.5 730.3L466.9 726.1L468.0 707.4L468.8 691.8L469.8 684.0L470.2 682.8L470.7 678.8L471.7 664.8L472.7 660.3L473.6 658.5L474.0 658.2L474.6 655.4L475.5 638.6L476.5 634.9L477.0 625.5L477.5 630.4L478.4 642.7L479.3 645.1L480.4 653.4L480.8 658.2L481.3 670.9L482.3 673.3L483.0 677.9L484.2 699.4L485.3 704.1L486.1 704.0L486.8 716.4L487.1 717.2L488.1 707.3L489.0 699.2L490.0 694.8L491.0 678.7L491.3 681.2L491.9 678.1L492.9 668.4L493.5 668.1L493.9 667.3L494.8 667.6L495.8 681.2L496.7 672.9L497.3 658.2L497.7 655.3L498.8 638.6L499.6 629.6L500.3 630.4L500.6 625.9L501.6 627.1L502.5 630.6L503.3 623.9L504.4 616.5L505.5 617.3L506.4 618.1L507.3 618.1L508.5 616.5L509.3 616.4L510.2 627.9L510.8 628.8L511.2 627.0L512.2 632.8L513.1 624.7L513.8 632.0L514.1 629.0L515.0 621.7L516.1 610.8L517.0 629.8L517.6 638.6L517.9 643.3L518.9 650.7L519.8 648.4L520.8 649.8L521.3 656.6L521.8 649.3L522.8 649.6L523.6 648.4L524.7 632.6L525.1 625.5L525.6 627.9L526.6 615.5L527.3 605.9L528.5 601.8L529.6 591.1L530.5 607.6L531.4 606.2L531.8 614.0L532.4 606.8L533.3 603.7L534.3 595.9L534.8 596.0L535.3 600.7L536.2 608.3L537.1 607.5L538.2 593.7L539.1 592.2L540.1 584.6L541.1 582.7L542.0 575.0L543.1 569.8L543.9 570.6L544.9 560.0L545.9 568.5L546.8 573.9L547.6 573.1L548.8 572.3L549.9 581.3L550.7 580.7L551.7 583.5L552.1 592.8L552.6 601.7L553.6 609.9L554.4 609.1L555.5 608.4L556.6 623.0L557.4 622.0L558.4 614.4L558.9 607.5L559.4 612.4L560.3 599.0L561.3 602.3L561.9 597.7L562.2 595.2L563.2 595.2L564.2 598.5L564.9 596.0L566.1 595.2L567.1 607.5L568.0 604.8L569.0 591.9L569.4 592.8L570.0 587.6L570.9 579.6L571.9 586.5L572.8 578.9L573.9 581.3L574.8 588.5L575.7 595.1L576.1 600.9L576.7 598.1L577.7 606.3L578.6 605.3L579.1 612.4L579.6 618.6L580.6 618.8L581.5 616.7L582.1 622.2L582.5 623.0L583.4 612.7L584.4 612.7L585.2 605.9L586.3 619.0L587.4 623.9L588.3 623.1L589.2 622.4L590.0 632.9L591.1 627.7L591.9 614.0L593.1 614.8L594.0 600.1L594.9 600.9L596.0 600.1L596.9 600.7L597.9 601.7L598.7 600.9L599.8 601.7L600.8 601.7L601.7 591.9L602.7 607.6L603.9 609.1L604.6 608.3L605.6 616.5L606.6 617.3L607.7 622.2L608.5 614.0L609.4 606.7L610.7 607.5L611.4 599.6L612.3 599.2L613.3 592.8L614.4 593.6L615.2 592.8L616.2 594.4L617.2 608.1L617.4 607.5L618.1 611.4L619.1 613.1L620.0 623.4L620.5 625.5L621.0 621.3L622.0 619.8L622.9 618.9L623.5 609.1L623.9 609.6L624.9 620.6L625.7 623.9L626.8 617.0L627.8 624.7L628.7 618.4L629.5 615.7L630.6 615.4L631.6 617.1L632.6 614.9L633.2 620.6L633.5 619.8L634.5 622.3L635.5 629.6L636.2 628.8L637.4 631.9L638.3 632.1L639.2 638.6L640.3 629.7L641.5 622.2L642.2 632.2L643.2 614.9L643.7 610.9L644.1 610.5L645.1 590.2L646.0 588.8L647.0 597.6L647.5 606.0L648.0 608.1L648.9 614.9L649.7 627.3L650.9 628.1L651.8 621.6L652.8 621.6L653.5 622.4L653.8 614.3L654.7 621.7L655.7 612.7L656.7 613.5L657.2 609.3L657.6 608.5L658.6 608.5L659.5 615.9L660.5 619.0L661.7 628.9L662.4 635.4L663.4 639.2L664.0 635.5L664.4 634.7L665.3 646.9L666.2 645.3L667.2 642.0L667.7 651.0L668.2 645.4L669.2 632.2L670.1 625.4L671.1 625.2L672.1 619.1L673.0 619.9L674.0 631.4L674.5 630.6L675.0 627.9L675.9 639.2L676.9 629.8L677.5 633.9L677.8 641.6L678.3 653.5L678.8 648.2L679.8 644.7L680.5 635.5L681.7 639.9L682.8 648.6L683.6 652.5L684.6 650.4L685.0 659.2L685.6 650.6L686.5 643.7L687.5 647.3L688.4 642.9L689.4 643.1L690.3 643.7L691.3 644.1L692.3 645.7L693.3 650.2L694.2 644.5L695.2 650.6L695.5 645.3L696.1 651.9L697.1 652.6L697.8 658.4L698.1 654.2L699.0 651.6L700.0 639.6L701.0 658.0L701.5 666.6L701.9 667.4L702.9 667.4L703.9 657.5L704.5 655.1L704.8 659.5L705.8 664.2L706.5 668.2L707.1 684.6L707.5 701.0L708.3 717.4L708.7 717.0L709.6 726.3L710.6 733.7L711.6 745.7L712.8 752.6L713.5 742.6L714.0 733.7L714.4 725.4L715.1 709.2L715.4 701.2L715.8 692.8L716.4 697.6L717.3 690.6L718.1 683.0L719.3 667.4L719.6 668.2L720.2 675.7L721.2 680.9L721.8 676.4L722.2 682.7L723.1 678.7L724.1 684.6L725.0 678.9L726.0 673.5L726.3 676.4L727.0 661.5L727.8 658.4L728.9 652.1L730.1 646.1L730.8 657.5L731.8 663.5L732.3 663.3L732.8 666.8L733.7 671.9L734.6 668.2L735.6 682.3L736.1 684.6L736.6 682.8L737.6 696.9L738.3 696.1L739.5 694.8L740.6 697.7L741.4 696.7L742.1 684.6L742.4 677.3L743.1 668.2L744.3 667.4L745.3 671.9L746.1 668.2L747.3 684.6L748.2 665.9L748.9 661.7L749.1 666.4L750.1 654.9L751.1 651.9L752.0 653.5L752.9 646.1L753.9 648.1L754.9 663.3L755.9 676.1L756.4 681.3L756.8 689.8L757.1 690.3L757.8 680.2L758.8 681.9L759.4 676.4L759.7 670.0L760.7 670.7L761.7 669.8L762.6 672.0L763.1 669.1L763.6 668.3L764.5 673.8L765.4 684.6L766.5 696.2L766.9 694.4L767.4 701.1L768.4 702.5L769.1 707.5L770.3 698.3L771.4 696.1L772.2 696.9L773.2 695.1L774.4 695.3L775.1 695.8L776.1 709.3L776.6 705.9L777.1 704.8L778.1 719.0L778.9 733.7L780.0 744.4L780.4 743.6L780.9 746.6L781.9 749.1L782.8 751.8L783.4 750.1L783.8 754.1L784.8 755.8L785.7 755.0L786.7 755.8L787.7 744.5L788.7 745.2L789.6 739.5L790.6 747.4L790.9 740.3L791.5 739.5L792.5 746.1L793.2 755.0L793.4 761.8L794.4 771.0L795.4 770.6L796.3 771.4L797.3 770.1L797.7 769.8L798.3 761.4L799.2 753.4L800.2 760.1L801.1 754.2L802.2 750.1L803.1 753.7L804.0 749.3L805.2 758.3L806.0 748.9L806.9 741.9L807.9 742.7L808.9 755.8L809.7 755.0L810.8 754.8L811.9 763.2L812.7 767.5L813.4 782.0L814.6 764.6L814.9 758.3L815.6 749.3L816.6 748.5L817.2 743.6L817.5 750.5L818.5 744.4L819.5 741.9L820.4 741.3L821.4 750.9L821.7 750.1L822.3 750.6L823.3 755.7L824.3 756.3L824.7 759.9L825.2 760.7L826.2 748.5L827.2 743.3L828.1 748.1L829.2 741.9L830.0 741.9L831.0 740.8L831.8 736.2L832.9 738.1L833.7 750.1L834.9 752.6L835.8 761.5L836.7 755.0L837.8 768.3L838.2 773.0L838.7 768.5L839.7 772.2L840.5 774.7L841.6 766.2L842.7 763.2L843.5 764.0L844.5 759.1L845.0 759.9L845.5 759.1L846.5 777.9L847.4 775.9L848.3 774.6L848.7 766.5L849.3 768.3L850.3 775.9L851.2 774.7L852.2 779.7L852.7 785.9L853.1 793.2L853.5 801.4L853.9 817.8L854.1 818.9L854.6 821.9L855.4 834.1L856.1 824.6L856.5 826.0L857.0 821.3L857.6 817.8L858.0 811.3L858.7 815.3L859.9 818.6L860.2 811.2L860.9 813.9L861.7 812.0L862.8 808.8L863.2 816.1L863.8 813.2L864.7 821.9L865.6 809.6L865.9 817.0L866.2 801.4L866.7 801.8L867.0 792.4L867.6 789.0L868.5 789.1L869.5 789.8L870.0 795.7L870.5 788.3L871.5 793.6L871.9 790.8L872.4 790.2L873.4 790.8L873.8 786.7L874.4 785.9L875.3 790.8L876.3 796.5L876.8 795.7L877.2 796.5L878.3 792.4L879.2 798.8L880.1 798.9L881.3 796.5L882.0 801.4L883.1 812.9L884.0 807.0L884.3 806.3L885.0 798.3L885.8 804.7L886.9 801.5L887.3 797.3L887.8 786.4L888.4 790.8L888.8 786.3L889.5 787.1L890.7 788.4L891.0 789.9L891.7 786.3L892.9 796.5L893.6 794.7L894.6 799.7L895.2 793.2L895.6 792.6L895.9 802.2L896.5 812.6L897.5 824.9L897.8 819.8L898.5 831.3L899.3 844.4L900.4 844.0L900.8 854.2L901.6 866.5L902.3 858.3L903.0 852.6L904.2 852.1L904.6 847.7L905.2 853.7L906.1 849.9L906.8 855.9L907.1 855.5L907.6 842.8L908.1 836.7L909.1 831.3L910.0 827.9L911.0 834.3L911.3 834.6L911.9 832.0L912.8 823.9L913.9 833.0L914.8 833.6L915.8 834.6L916.7 839.0L917.3 852.6L917.7 851.0L918.7 840.2L919.6 836.2L920.6 829.7L921.4 819.0L922.5 820.9L923.3 834.6L924.4 843.2L924.8 842.8L925.4 851.2L926.4 845.5L927.1 857.5L928.3 856.7L928.6 864.0L929.3 876.8L930.4 881.2L931.2 876.0L931.6 864.0L932.2 853.9L933.1 850.9L934.1 857.4L935.0 849.3L936.1 850.1L937.0 854.5L937.9 858.2L939.1 864.0L939.9 855.3L940.8 856.4L941.3 846.0L941.8 846.7L942.8 846.8L943.6 840.3L944.7 843.1L945.6 843.5L946.6 842.8L947.6 848.5L948.5 853.5L948.9 855.9L949.5 860.2L950.5 856.0L951.1 867.3L951.4 868.1L952.4 853.2L953.4 852.6L954.3 853.5L954.9 842.8L955.3 842.0L956.2 857.0L957.1 860.8L958.2 862.0L959.4 854.2L960.1 865.0L960.9 875.5L962.0 868.7L963.0 876.3L963.9 874.7L964.9 873.9L965.9 873.9L966.9 875.5L967.8 880.5L968.8 881.2L969.1 880.4L969.7 868.9L970.6 867.3L971.7 861.9L972.1 860.8L972.6 865.9L973.6 864.5L974.4 872.2L975.5 884.5L975.9 883.7L976.5 883.3L977.4 874.7L978.2 875.5L979.4 877.8L979.7 885.3L980.3 873.4L981.3 869.2L981.9 864.0L982.2 871.8L983.2 863.2L984.2 872.2L985.1 871.4L986.1 876.1L986.4 882.0L987.1 885.6L988.0 886.8L988.7 890.2L989.0 889.0L990.0 884.9L990.9 890.6L991.7 885.3L992.8 883.0L993.8 886.1L994.8 878.0L995.4 878.8L995.7 879.9L996.7 884.0L997.7 891.9L998.6 902.5L999.6 905.0L999.9 904.1L1000.6 900.2L1001.5 887.9L1002.2 888.6L1002.5 893.7L1003.4 904.5L1004.4 905.8L1005.4 896.6L1005.9 883.7L1006.3 888.5L1007.3 875.9L1008.2 868.1L1009.2 878.0L1009.7 887.0L1010.2 884.5L1011.1 897.6L1012.1 900.0L1012.7 899.2L1013.1 900.0L1014.0 900.0L1015.0 895.1L1016.0 899.4L1016.9 905.8L1017.2 905.0L1017.9 905.6L1018.9 896.7L1019.5 898.4L1019.8 898.7L1020.8 897.2L1021.7 892.7L1022.7 892.8L1023.7 907.4L1024.0 903.3L1024.6 907.4L1025.6 900.3L1026.2 906.6L1026.6 903.0L1027.5 898.4L1028.5 899.2L1029.4 900.0L1030.4 897.6L1030.7 898.4L1031.4 908.2L1032.3 909.7L1033.0 914.0L1033.3 905.4L1034.3 903.3L1035.2 903.3L1036.2 903.8L1037.2 912.3L1037.5 911.5L1038.1 910.1L1039.1 910.7L1040.0 920.3L1040.5 914.8L1041.0 918.1L1042.0 923.8L1042.9 919.3L1043.9 925.4L1044.9 925.4L1045.8 924.6L1046.8 918.0L1047.3 916.4L1047.8 908.0L1048.8 908.2L1049.5 924.6L1050.6 938.9L1051.0 939.4L1051.6 930.7L1052.6 940.1L1053.3 931.2L1054.5 938.5L1055.5 937.7L1056.4 944.4L1057.4 946.7L1057.8 945.9L1058.3 946.7L1059.3 932.5L1060.0 927.1L1061.2 936.9L1062.3 936.1L1063.2 935.3L1064.1 941.8L1065.3 941.0L1066.1 941.8L1067.0 938.5L1068.0 938.5L1068.3 939.4L1068.9 947.4L1069.9 950.8L1070.5 950.0L1070.9 945.3L1071.8 950.7L1072.8 948.4L1073.5 949.2L1074.7 948.4L1075.7 953.2L1076.5 952.5L1077.6 963.6L1078.8 970.5L1079.5 969.2L1080.5 954.6L1081.1 954.1L1081.5 958.2L1082.4 955.8L1083.3 952.5L1084.4 959.2L1084.8 965.5L1085.3 967.5L1086.3 967.4L1087.1 974.5L1088.2 967.3L1089.3 957.4L1090.1 958.3L1091.1 969.5L1091.6 973.7L1092.1 974.5L1093.0 967.8L1093.8 960.6L1095.0 965.4L1096.1 967.2L1096.9 966.4L1097.8 976.2L1098.3 972.1L1098.8 977.3L1099.8 988.5L1100.6 987.6L1101.7 988.5L1102.8 981.9L1103.6 982.7L1104.6 981.1L1105.1 980.3L1105.6 986.2L1106.5 980.8L1107.5 984.1L1108.1 993.4L1108.4 994.2L1109.4 991.6L1110.3 986.0L1111.3 986.8L1112.3 984.4L1113.3 985.2L1114.2 984.5L1115.2 985.9L1115.6 983.6L1116.1 983.5L1117.1 984.4L1118.1 977.9L1118.6 978.6L1119.0 986.0L1120.0 990.5L1120.9 988.5L1121.9 999.6L1122.4 995.0L1122.9 994.5L1123.9 1000.7L1124.6 999.9L1125.8 994.0L1126.9 991.7L1127.7 992.0L1128.7 992.5L1129.6 989.6L1130.6 986.8L1131.6 990.6L1132.5 991.2L1133.6 995.8L1134.4 994.6L1135.4 992.9L1136.6 990.9L1137.3 992.1L1138.3 991.6L1139.3 990.8L1139.6 991.7L1140.2 991.2L1141.2 995.8L1141.9 995.0L1143.1 998.3L1144.1 994.2L1144.9 998.3L1146.0 987.6L1147.1 981.9L1147.9 982.7L1148.9 976.2L1149.9 983.8L1150.1 977.0L1150.8 990.2L1151.7 1004.8L1152.8 995.8L1153.9 980.3L1154.7 979.2L1155.6 968.8L1156.2 969.6L1156.6 975.3L1157.6 974.5L1158.5 968.8L1159.2 973.7L1159.5 977.5L1160.5 984.5L1161.4 991.7L1162.4 983.8L1163.3 979.9L1163.7 980.3L1164.3 972.2L1165.3 971.9L1165.9 965.5L1166.2 966.0L1167.2 965.7L1168.2 977.0L1169.1 967.5L1170.1 961.0L1171.2 960.6L1172.0 965.7L1173.0 967.8L1173.4 968.8L1173.9 964.9L1174.9 963.1L1175.7 959.0L1176.8 968.6L1177.9 973.7L1178.8 972.9L1179.7 973.1L1180.2 981.9L1180.7 982.7L1181.7 971.3L1182.6 968.5L1183.2 970.5L1183.6 971.3L1184.5 971.3L1185.4 963.9L1186.5 954.9L1187.7 955.7L1188.4 957.7L1189.4 968.0L1190.0 967.2L1190.3 962.9L1191.3 971.9L1192.3 982.8L1193.2 985.9L1194.2 990.7L1194.6 986.1L1195.1 982.9L1196.1 991.0L1196.8 995.1L1198.0 993.5L1199.1 989.4L1200.0 985.8L1200.9 980.7L1201.3 977.9L1201.9 980.3L1202.6 965.6L1202.8 975.6L1203.8 970.7L1204.4 979.5L1204.8 978.8L1205.9 991.0L1206.7 983.9L1207.7 975.5L1208.1 976.2L1208.6 975.5L1209.6 983.7L1210.4 986.1L1211.5 986.9L1212.5 984.5L1213.4 985.3L1214.4 979.9L1215.4 983.7L1216.3 978.7L1217.1 979.5L1218.3 982.1L1218.6 991.0L1219.2 983.0L1220.2 988.4L1220.9 980.3L1222.1 980.7L1223.1 989.4L1224.0 988.0L1225.0 981.5L1225.4 981.2L1226.0 988.4L1226.9 989.1L1227.6 992.6L1228.9 993.2L1229.9 1001.6L1230.8 994.8L1231.7 993.5L1232.1 994.3L1232.7 989.8L1233.7 988.5L1234.6 988.5L1235.1 989.4L1235.6 994.5L1236.6 1001.1L1237.4 1007.4L1238.5 998.4L1239.7 999.2L1240.4 999.1L1241.4 1004.1L1242.3 1009.2L1242.7 1003.3L1243.3 1003.0L1244.3 1004.2L1244.9 1012.3L1245.2 1006.9L1246.2 998.0L1247.2 997.5L1248.1 996.7L1249.1 1008.5L1249.4 1002.5L1250.0 1016.7L1250.9 1022.1L1252.0 1017.5L1253.2 1013.9L1253.9 1018.9L1254.9 1026.9L1255.4 1027.0L1255.8 1025.0L1256.9 1007.4L1257.7 997.5L1258.7 1005.9L1259.9 1009.0L1260.6 1009.8L1261.6 1004.2L1262.2 1000.8L1262.6 995.1L1263.5 1000.6L1264.4 995.9L1265.5 1003.2L1266.7 1007.4L1267.4 1000.0L1268.2 1000.8L1269.3 1004.0L1270.4 1017.2L1271.2 1006.9L1272.0 993.4L1273.2 996.5L1274.2 1002.5L1275.1 1006.5L1276.1 1001.6L1277.2 1005.7L1278.0 999.6L1279.0 985.3L1279.9 989.7L1281.0 991.0L1281.8 986.7L1282.8 991.4L1283.2 995.9L1283.8 996.3L1284.7 1000.4L1285.5 1007.4L1286.7 1000.0L1287.7 1000.8L1288.6 1000.0L1289.5 1007.3L1290.5 1005.5L1291.5 1013.1L1292.4 1006.4L1293.0 999.2L1293.4 996.0L1294.5 992.6L1295.3 993.8L1296.3 991.9L1296.7 997.5L1297.2 998.3L1298.2 980.9L1299.3 980.3L1300.1 991.4L1301.2 989.4L1302.1 996.2L1302.7 999.2L1303.0 1000.0L1304.0 995.3L1305.0 991.0L1305.9 986.9L1306.9 986.1L1307.2 986.9L1307.8 998.7L1308.8 1000.2L1309.5 1005.7L1310.7 994.2L1311.8 987.7L1312.7 978.3L1313.6 974.0L1314.0 977.9L1314.6 973.4L1315.5 969.7L1316.5 972.6L1317.5 981.7L1317.8 977.9L1318.4 976.2L1319.3 987.7L1320.4 992.4L1321.3 992.0L1322.3 1002.5L1323.3 991.0L1323.8 991.0L1324.2 990.9L1325.2 997.0L1326.1 985.1L1326.8 991.0L1327.1 983.3L1328.3 979.5L1329.0 979.3L1330.0 971.8L1330.5 968.9L1331.0 968.1L1331.9 977.3L1332.8 977.9L1333.9 989.3L1334.8 989.5L1335.8 989.4L1336.7 988.0L1337.3 974.6L1337.7 978.0L1338.7 970.5L1339.6 976.9L1340.3 971.3L1340.6 972.9L1341.6 970.6L1342.6 977.9L1343.5 971.7L1344.4 976.5L1344.8 968.1L1345.4 976.1L1346.3 982.0L1347.3 975.8L1348.6 973.0L1349.3 973.2L1350.2 968.6L1351.2 959.1L1351.6 959.9L1352.2 963.1L1353.1 974.9L1353.8 974.6L1355.0 972.0L1356.1 981.2L1357.0 971.1L1357.6 963.1L1357.9 962.4L1358.9 965.3L1359.8 973.0L1360.8 978.7L1361.8 975.0L1362.1 977.9L1362.8 988.5L1363.9 992.6L1364.7 990.2L1365.8 977.9L1366.6 977.8L1367.6 968.1L1368.5 969.0L1368.8 968.9L1369.5 983.2L1370.3 987.7L1371.4 982.8L1372.6 973.0L1373.3 974.3L1374.3 991.8L1374.8 997.5L1375.3 995.8L1376.2 993.3L1377.1 991.0L1378.2 985.8L1379.4 982.8L1380.1 991.6L1381.1 992.1L1382.0 999.1L1382.4 998.4L1383.0 999.1L1383.9 994.9L1384.6 984.4L1384.9 988.1L1385.9 978.7L1386.9 979.5L1387.8 972.1L1388.8 975.3L1389.9 981.2L1390.6 968.1L1391.7 980.7L1392.9 995.1L1393.6 985.5L1394.5 974.0L1395.1 974.6L1395.5 981.2L1396.5 972.5L1397.4 973.0L1398.1 953.3L1399.4 953.0L1400.4 961.5L1401.3 963.7L1402.2 968.9L1403.4 968.1L1404.1 943.5L1405.1 955.2L1406.1 966.3L1407.1 968.1L1408.0 958.1L1409.0 963.9L1409.4 958.2L1410.0 954.4L1410.9 952.7L1411.7 953.3L1412.8 962.2L1413.9 971.3L1414.8 965.0L1415.7 964.0L1416.2 956.6L1416.7 955.8L1417.7 959.3L1418.4 961.5L1419.6 949.3L1420.7 940.2L1421.5 937.9L1422.5 931.9L1422.9 928.8L1423.4 928.0L1424.4 939.4L1425.2 938.6L1426.3 936.8L1427.4 932.0L1428.3 931.2L1429.2 937.2L1429.7 938.6L1430.2 939.4L1431.1 938.6L1431.9 929.6L1433.1 935.1L1434.2 943.5L1435.0 933.4L1436.0 937.8L1436.4 927.1L1436.9 939.0L1437.9 953.5L1438.2 956.6L1438.9 947.4L1439.8 942.6L1440.2 932.0L1440.8 923.9L1441.7 928.8L1442.4 919.8L1443.7 931.9L1444.7 933.7L1445.6 928.8L1446.6 920.8L1447.0 920.6L1447.5 925.8L1448.5 925.7L1449.2 930.4L1450.4 929.9L1451.4 929.6L1452.3 932.8L1453.0 932.0L1453.3 924.2L1454.3 923.4L1455.2 917.3L1456.2 927.6L1456.7 934.5L1457.2 935.3L1458.1 920.6L1459.0 922.2L1460.0 917.4L1460.5 914.0L1461.0 916.6L1462.0 933.7L1462.9 934.5L1463.9 921.4L1464.2 922.2L1464.9 929.4L1465.8 924.7L1466.5 923.9L1466.8 917.7L1467.8 914.7L1468.4 911.6L1468.7 910.8L1469.7 917.2L1470.6 924.7L1471.0 923.9L1471.6 924.2L1472.6 927.9L1473.5 927.9L1474.0 927.1L1474.5 926.3L1475.5 926.7L1476.4 938.2L1477.0 937.8L1477.4 933.4L1478.3 926.6L1479.2 925.5L1480.3 924.1L1481.5 907.5L1482.2 911.8L1483.2 911.0L1483.8 917.3L1484.1 919.7L1485.1 923.1L1486.1 930.6L1487.0 928.0L1487.5 931.2L1488.0 928.4L1489.0 922.2L1489.9 910.1L1490.9 914.3L1491.3 905.9L1491.8 915.5L1492.8 905.7L1493.5 917.3L1494.7 923.0L1495.7 923.0L1496.7 923.0L1497.3 922.2L1497.6 923.0L1498.6 912.0L1499.5 912.4L1500.5 913.2L1501.5 899.2L1502.5 895.2L1503.4 906.3L1504.4 911.0L1504.8 909.1L1505.3 915.0L1506.3 920.6L1507.2 939.5L1507.8 938.6L1508.2 951.9L1508.8 953.3L1509.2 950.4L1510.1 945.2L1510.8 941.9L1511.1 944.9L1512.3 925.5L1513.0 922.6L1514.0 926.3L1514.6 918.9L1515.0 912.2L1515.9 907.0L1516.8 905.9L1517.8 897.8L1518.8 890.8L1519.8 887.8L1520.7 892.5L1521.7 894.4L1522.1 900.9L1522.7 897.8L1523.6 904.7L1524.3 909.1L1524.6 903.6L1525.6 900.8L1526.6 897.7L1527.5 898.0L1528.4 903.4L1528.8 902.6L1529.4 899.1L1530.4 897.1L1531.1 892.8L1532.3 893.5L1533.3 890.0L1534.2 888.8L1534.8 889.5L1535.2 891.1L1536.1 895.2L1537.1 889.8L1537.8 894.4L1539.0 881.0L1539.3 873.1L1540.0 879.4L1541.0 889.1L1541.9 885.4L1542.9 883.0L1543.2 879.3L1543.9 884.4L1544.8 888.2L1545.5 898.9L1545.8 893.1L1546.7 886.7L1547.7 887.5L1548.7 889.9L1549.6 889.9L1550.0 889.1L1550.6 889.9L1551.6 875.0L1552.5 871.1L1553.5 885.7L1554.5 898.9L1555.4 894.0L1556.4 883.4L1556.7 884.2L1557.3 887.3L1558.3 891.6L1559.0 892.4L1559.3 890.7L1560.2 887.3L1561.2 887.5L1562.2 878.6L1563.1 875.2L1563.5 876.0L1564.1 881.9L1565.0 882.5L1565.7 892.4L1567.2 877.7L1567.9 858.6L1568.8 850.6L1569.9 888.0L1570.3 890.8L1570.8 891.6L1571.8 878.5L1572.5 876.0L1573.7 880.8L1574.8 885.9L1575.6 878.5L1576.6 884.4L1577.0 876.0L1577.6 874.4L1578.5 880.8L1579.3 875.2L1580.5 888.9L1580.8 887.5L1581.4 885.1L1582.6 902.2L1583.3 889.6L1584.5 889.1L1585.3 876.7L1586.0 866.2L1587.2 865.4L1588.3 876.0L1589.1 876.8L1590.1 874.2L1591.3 860.5L1592.0 865.8L1593.0 865.5L1593.5 871.1L1593.9 867.2L1594.9 870.3L1595.9 874.5L1596.5 874.4L1596.8 867.8L1598.0 862.9L1598.8 862.1L1599.7 870.3L1600.7 871.9L1601.0 871.1L1601.7 874.1L1602.6 877.6L1603.6 877.6L1604.8 876.8L1605.5 872.4L1606.5 866.7L1607.1 866.2L1607.4 860.3L1608.4 867.0L1609.3 859.6L1610.3 868.6L1611.6 879.3L1612.2 878.3L1613.2 862.4L1613.8 856.4L1614.2 864.5L1615.1 867.6L1616.1 869.5L1617.1 874.9L1618.0 880.1L1618.3 879.3L1619.0 878.7L1620.0 863.8L1620.6 864.6L1620.9 872.5L1621.9 869.8L1622.8 885.1L1623.3 888.3L1623.8 880.6L1624.8 871.4L1625.8 852.3L1626.7 853.1L1627.7 866.8L1628.1 866.2L1628.6 879.4L1629.6 889.9L1630.6 876.4L1631.1 872.8L1631.5 871.6L1632.5 863.3L1633.3 859.6L1634.4 872.2L1635.6 877.7L1636.3 878.5L1637.3 868.0L1637.9 864.6L1638.3 863.8L1639.2 883.2L1640.1 884.2L1641.1 880.8L1642.1 869.8L1643.1 870.3L1644.0 884.7L1644.6 887.5L1645.0 887.0L1646.0 883.3L1646.9 889.1L1647.9 888.3L1649.1 892.4L1649.9 913.7L1650.3 938.2L1650.9 962.8L1651.5 987.4L1652.4 1011.9L1652.7 1017.9L1653.6 1029.9L1654.6 1025.8L1655.9 1026.7L1656.6 1011.9L1657.1 995.5L1657.4 982.5L1658.1 971.0L1658.5 963.3L1659.6 962.8L1660.4 962.0L1661.1 972.6L1662.3 975.2L1663.4 980.8L1664.3 978.7L1664.9 971.0L1665.2 967.3L1666.2 964.8L1667.1 962.8L1668.1 957.0L1668.6 946.4L1669.1 947.1L1670.0 949.1L1670.9 938.2L1671.7 921.9L1672.0 925.5L1673.1 913.7L1673.9 916.6L1674.7 905.5L1675.4 897.3L1675.8 898.4L1676.8 904.7L1677.7 902.2L1678.7 911.2L1679.2 910.4L1679.7 899.6L1680.6 901.3L1681.4 897.3L1682.6 896.2L1682.9 890.8L1683.5 895.2L1684.4 912.0L1685.5 892.6L1685.9 894.0L1686.4 896.6L1687.4 894.5L1688.2 905.5L1689.3 890.1L1690.4 885.9L1691.2 874.8L1692.2 881.1L1692.7 875.2L1693.2 874.4L1694.1 898.3L1694.9 900.6L1696.1 890.0L1697.2 877.7L1697.9 861.3L1698.9 843.8L1699.4 837.5L1699.9 839.3L1700.9 861.3L1701.8 861.9L1702.8 862.1L1703.2 867.0L1703.8 876.8L1704.7 877.7L1705.4 882.6L1706.7 872.0L1707.7 872.8L1708.6 892.8L1709.5 907.1L1710.0 906.3L1710.5 904.3L1711.5 879.3L1712.4 869.6L1713.4 867.3L1713.7 865.4L1714.4 875.7L1715.3 876.1L1716.0 889.1L1716.3 886.1L1717.2 878.8L1718.2 876.0L1719.2 890.5L1720.1 885.9L1720.5 896.5L1721.1 897.3L1722.1 880.1L1722.7 880.9L1723.0 888.8L1724.0 884.8L1725.0 889.1L1725.9 885.0L1726.9 883.4L1727.2 885.9L1727.8 889.7L1728.8 872.8L1729.5 874.4L1729.8 878.9L1730.7 875.2L1731.7 871.9L1732.7 868.7L1733.6 871.7L1734.7 869.5L1735.6 883.1L1736.2 894.0L1736.5 894.8L1737.5 873.7L1738.5 866.2L1739.4 862.8L1740.4 866.0L1741.3 859.7L1742.2 860.5L1743.3 880.2L1743.8 895.7L1744.2 893.5L1745.2 878.2L1746.0 864.6L1747.1 876.9L1748.3 887.5L1749.0 886.8L1750.0 868.6L1751.0 871.2L1751.3 862.1L1751.9 866.4L1752.9 886.0L1753.5 885.9L1753.9 884.3L1755.0 862.9L1755.8 872.0L1756.7 877.2L1757.3 879.3L1757.7 880.1L1758.7 872.2L1759.5 872.8L1760.6 883.5L1761.8 887.5L1762.5 886.7L1763.3 897.3L1764.4 887.0L1765.5 872.8L1766.4 873.5L1767.3 874.9L1767.8 866.2L1768.3 866.3L1769.3 884.5L1770.0 884.2L1771.2 870.2L1772.3 853.9L1773.1 868.6L1774.1 885.9L1774.5 896.5L1775.0 888.2L1776.0 873.9L1776.8 862.9L1777.9 860.2L1778.3 849.8L1778.9 859.2L1779.9 858.0L1780.6 869.5L1780.8 877.0L1782.1 885.9L1782.8 891.0L1783.7 898.1L1784.3 897.3L1784.7 891.5L1785.6 892.5L1786.6 882.6L1787.6 865.8L1788.1 857.2L1788.5 865.3L1789.6 897.3L1790.5 898.0L1791.1 908.8L1791.4 917.1L1792.6 917.0L1793.3 910.6L1794.3 916.2L1794.8 921.0L1795.3 925.8L1796.3 938.2L1797.2 929.1L1798.2 927.0L1798.6 923.5L1799.1 921.1L1800.1 926.9L1800.8 921.9L1802.0 942.6L1802.3 946.4L1803.0 958.0L1803.8 967.7L1804.9 959.7L1806.1 935.0L1806.8 939.4L1807.6 954.6L1808.8 962.2L1809.8 970.2L1810.7 943.1L1811.3 931.7L1811.7 926.5L1812.6 923.4L1813.6 917.0L1814.5 914.9L1815.5 899.4L1815.9 902.2L1816.5 903.6L1817.4 896.7L1818.1 889.1L1818.4 892.5L1819.6 908.8L1820.3 904.2L1821.1 886.7L1821.9 918.6L1822.2 919.1L1823.2 929.2L1824.1 928.4L1825.1 939.0L1826.4 938.2L1827.1 939.6L1828.0 950.5L1829.0 950.5L1829.4 949.7L1830.0 943.9L1830.9 934.7L1831.6 925.1L1832.8 935.9L1833.8 940.7L1834.6 939.9L1835.7 936.7L1836.9 920.2L1837.7 921.0L1838.6 911.1L1839.6 906.3L1839.9 907.1L1840.6 909.3L1841.4 925.1L1842.5 941.1L1842.9 949.7L1843.4 935.7L1844.4 929.5L1845.1 918.6L1846.3 907.7L1847.3 906.7L1848.1 906.3L1849.2 923.0L1850.4 948.1L1851.1 948.9L1852.1 935.1L1852.7 931.7L1853.1 924.3L1854.0 931.8L1854.9 925.1L1856.0 934.1L1856.9 933.0L1857.9 923.7L1858.7 933.3L1859.8 923.8L1860.2 913.7L1860.8 904.6L1861.7 907.4L1862.4 897.3L1862.7 902.8L1863.7 901.4L1864.6 896.5L1865.4 900.6L1866.6 894.4L1867.7 892.4L1868.5 882.2L1869.4 887.7L1870.7 876.8L1871.4 877.8L1872.3 894.6L1872.9 902.2L1873.3 903.0L1874.3 899.4L1875.2 887.3L1875.9 884.2L1877.2 883.8L1878.2 895.7L1879.1 896.5L1880.0 882.8L1881.2 880.1L1882.0 888.8L1882.9 891.8L1883.4 905.5L1883.9 900.4L1884.9 906.3L1885.7 895.7L1886.8 907.2L1888.0 912.0L1888.7 909.5L1889.6 899.1L1890.6 892.1L1891.1 887.7L1891.6 882.0L1892.6 882.0L1893.3 882.8L1894.5 900.9L1895.6 904.0L1896.4 903.2L1897.4 918.4L1897.8 918.8L1898.3 910.1L1899.3 899.1L1900.3 897.4L1901.2 882.5L1901.6 886.0L1902.2 872.9L1903.1 868.8L1904.1 869.2L1905.4 868.0L1906.1 873.7L1907.0 895.5L1907.6 899.1L1908.0 910.3L1909.1 912.2L1909.9 898.3L1910.9 890.3L1911.4 889.3L1911.8 888.5L1912.8 893.8L1913.6 899.1L1914.7 886.0L1915.9 881.1L1916.7 891.4L1917.6 898.1L1918.1 905.7L1918.6 904.4L1919.5 906.3L1920.4 897.5L1921.5 898.3L1922.6 892.6L1923.4 878.8L1924.4 869.4L1924.9 867.2L1925.3 871.3L1926.3 876.4L1927.1 882.8L1928.2 885.8L1928.6 897.5L1929.2 896.2L1930.1 888.0L1930.9 876.2L1932.1 879.4L1933.1 884.4L1934.0 880.3L1935.0 884.9L1935.4 881.1L1935.9 880.3L1936.9 889.2L1937.7 904.0L1938.8 912.8L1939.2 913.9L1939.8 899.5L1940.7 881.1L1941.7 899.5L1942.9 904.0L1943.6 896.4L1944.6 891.8L1945.2 892.6L1945.6 898.3L1946.7 926.1L1947.5 906.0L1948.2 877.8L1948.4 883.4L1949.4 880.7L1950.4 897.5L1951.3 896.7L1952.3 908.1L1952.7 907.3L1953.3 905.9L1954.2 899.2L1954.9 897.5L1956.1 885.2L1957.2 886.0L1958.1 885.2L1959.0 885.2L1959.4 894.2L1960.0 903.1L1961.0 908.1L1961.7 907.3L1962.9 919.2L1963.9 928.6L1964.8 923.7L1965.4 912.2L1965.8 906.5L1966.7 905.8L1967.7 907.3L1968.7 903.9L1969.2 899.1L1969.6 896.5L1970.6 883.0L1971.0 876.2L1971.6 876.2L1972.5 901.0L1973.0 899.1L1973.5 895.9L1974.4 904.2L1975.2 902.4L1976.4 938.2L1976.7 940.9L1977.3 914.6L1978.5 882.8L1979.3 889.0L1980.5 900.8L1981.2 906.9L1982.2 914.7L1982.7 913.9L1983.1 914.7L1984.1 906.8L1985.0 904.0L1986.0 899.8L1986.5 893.4L1987.0 898.2L1988.0 907.3L1988.9 913.2L1989.5 927.0L1989.9 919.5L1991.0 915.5L1991.7 948.2L1992.2 974.4L1992.6 997.4L1993.2 1030.1L1994.0 1067.0L1994.8 1104.0L1995.6 1134.2L1996.1 1148.6L1996.6 1154.8L1997.6 1158.0L1998.2 1163.4L1998.5 1161.1L1999.5 1161.7L2000.2 1171.6L2000.5 1170.8L2001.4 1145.4L2002.3 1135.2L2003.3 1126.3L2004.3 1118.6L2005.0 1104.0L2005.3 1111.6L2006.2 1115.3L2007.2 1114.1L2008.4 1130.8L2009.1 1140.2L2010.1 1153.3L2011.1 1151.1L2011.8 1161.2L2013.0 1151.0L2013.9 1133.7L2014.9 1126.6L2015.9 1118.9L2016.8 1113.0L2017.2 1104.0L2017.8 1100.4L2018.8 1080.8L2019.3 1077.3L2019.7 1075.0L2020.7 1064.4L2021.6 1067.0L2022.5 1067.0L2023.3 1046.5L2023.6 1035.5L2024.8 1021.9L2025.5 1007.2L2026.5 1015.4L2027.4 1034.1L2027.8 1035.0L2028.5 997.4L2029.3 981.0L2030.3 965.8L2030.8 961.3L2031.3 968.2L2032.3 964.6L2033.2 954.1L2033.8 943.3L2034.2 950.9L2035.1 950.9L2036.0 948.2L2037.1 952.8L2037.6 956.4L2038.3 931.9L2039.0 924.5L2039.8 925.3L2040.9 926.8L2042.1 928.6L2042.8 925.9L2043.8 919.6L2044.3 920.4L2044.8 919.6L2045.8 933.5L2046.7 934.3L2047.7 924.6L2048.1 916.3L2048.6 918.8L2049.6 921.5L2050.3 935.1L2051.5 922.7L2052.6 918.8L2053.4 905.3L2054.5 886.8L2055.6 912.2L2056.3 913.0L2057.3 902.1L2057.8 908.9L2058.3 918.1L2059.3 928.6L2060.2 929.4L2061.1 930.7L2061.6 922.0L2062.1 925.5L2063.1 932.0L2063.8 930.2L2065.0 947.1L2065.3 948.2L2066.0 929.2L2066.9 915.7L2067.6 907.3L2067.9 920.4L2068.9 926.2L2069.8 952.3L2070.8 930.2L2071.7 920.3L2072.1 912.2L2072.7 922.5L2073.7 920.4L2074.3 927.0L2074.6 927.8L2075.6 927.8L2076.6 922.0L2077.5 922.8L2078.5 914.7L2078.9 915.5L2079.4 923.7L2080.7 931.9L2081.4 940.9L2082.2 963.8L2083.4 909.8L2084.3 924.0L2085.2 927.5L2085.6 927.0L2086.2 924.4L2087.2 902.8L2087.9 891.8L2089.1 893.1L2090.1 907.3L2091.0 917.2L2091.6 931.9L2092.0 922.7L2092.9 926.4L2093.9 915.5L2094.9 919.4L2095.8 910.5L2096.1 910.6L2096.8 934.7L2097.6 953.1L2098.7 897.4L2099.1 881.9L2099.7 888.3L2100.6 902.4L2101.6 914.9L2102.1 923.7L2102.6 928.2L2103.5 931.3L2104.4 948.2L2105.5 934.4L2106.6 930.2L2107.4 929.4L2108.3 945.0L2108.9 946.6L2109.3 944.8L2110.3 947.4L2111.1 938.4L2112.2 945.2L2113.4 948.2L2114.1 947.4L2114.9 955.6L2116.1 941.4L2117.2 940.0L2118.0 937.6L2118.9 933.5L2119.4 925.3L2119.9 929.2L2120.9 954.8L2121.7 993.3L2122.8 959.6L2123.2 948.2L2123.8 950.8L2124.7 942.2L2125.4 930.2L2126.7 929.4L2127.7 938.4L2128.6 930.0L2129.6 920.4L2130.5 933.5L2131.4 935.1L2132.4 945.6L2133.4 944.6L2133.7 954.8L2134.4 955.3L2135.2 961.3L2136.3 951.5L2137.4 948.2L2138.2 938.1L2138.9 933.5L2140.1 936.8L2141.2 925.3L2142.1 939.2L2143.0 951.9L2143.4 948.2L2144.0 952.3L2145.0 952.3L2145.7 951.5L2146.9 939.9L2148.0 931.9L2148.8 957.4L2149.5 964.6L2149.8 967.0L2150.7 975.2L2151.3 974.4L2151.7 965.6L2152.7 967.5L2153.2 956.4L2153.6 952.7L2154.6 956.5L2155.5 945.0L2156.2 971.2L2156.5 965.0L2157.5 956.6L2158.5 948.2L2159.4 940.9L2160.4 939.2L2160.7 930.2L2161.3 936.6L2162.3 933.3L2163.0 940.0L2163.3 936.6L2164.2 930.7L2165.2 913.0L2166.1 928.7L2166.7 928.6L2167.1 939.1L2168.2 954.8L2169.0 939.8L2169.7 931.9L2171.0 959.2L2171.7 964.6L2172.9 920.9L2173.2 912.2L2173.9 924.3L2175.0 935.1L2175.8 932.3L2176.5 920.4L2177.7 955.0L2178.0 959.7L2178.7 942.8L2179.6 931.3L2180.2 927.0L2180.6 936.4L2181.8 948.2L2182.5 964.7L2183.5 985.3L2184.0 989.2L2184.4 984.1L2185.5 961.3L2186.4 955.5L2187.3 948.8L2187.8 938.4L2188.3 960.0L2189.3 979.4L2190.2 966.8L2190.8 964.6" fill="none" stroke="#0000ff" stroke-width="3.4" stroke-dasharray="20.16 5.04 3.15 5.04" stroke-linejoin="round"/></g>
<path d="M811.7 397.2V668" fill="none" stroke="#0000ff" stroke-width="3.7" stroke-dasharray="28 4.6"/>
<path d="M337.75 32.85V1197.05M2388.00 32.85V1197.05" stroke="#000" stroke-width="1.83" fill="none" stroke-linecap="square"/>
<path d="M337.75 32.85H2388.00M337.75 1197.05H2388.00" stroke="#000" stroke-width="1.85" fill="none" stroke-linecap="square"/>
<path d="M337.75 1197.05v7.5M594.03 1197.05v7.5M850.31 1197.05v7.5M1106.59 1197.05v7.5M1362.88 1197.05v7.5M1619.16 1197.05v7.5M1875.44 1197.05v7.5M2131.72 1197.05v7.5M2388.00 1197.05v7.5" stroke="#000" stroke-width="1.72" fill="none"/>
<path d="M337.75 1197.05h-8M337.75 1003.02h-8M337.75 808.98h-8M337.75 614.95h-8M337.75 420.92h-8M337.75 226.88h-8M337.75 32.85h-8" stroke="#000" stroke-width="1.68" fill="none"/>
<text transform="translate(337.75,1243.50) scale(1.0952,1)" font-size="41.80" text-anchor="middle">400</text>
<text transform="translate(594.03,1243.50) scale(1.0952,1)" font-size="41.80" text-anchor="middle">450</text>
<text transform="translate(850.31,1243.50) scale(1.0952,1)" font-size="41.80" text-anchor="middle">500</text>
<text transform="translate(1106.59,1243.50) scale(1.0952,1)" font-size="41.80" text-anchor="middle">550</text>
<text transform="translate(1362.88,1243.50) scale(1.0952,1)" font-size="41.80" text-anchor="middle">600</text>
<text transform="translate(1619.16,1243.50) scale(1.0952,1)" font-size="41.80" text-anchor="middle">650</text>
<text transform="translate(1875.44,1243.50) scale(1.0952,1)" font-size="41.80" text-anchor="middle">700</text>
<text transform="translate(2131.72,1243.50) scale(1.0952,1)" font-size="41.80" text-anchor="middle">750</text>
<text transform="translate(2388.00,1243.50) scale(1.0952,1)" font-size="41.80" text-anchor="middle">800</text>
<text transform="translate(321.30,1213.25) scale(1.1005,1)" font-size="41.80" text-anchor="end">0.00000</text>
<text transform="translate(321.30,1019.22) scale(1.1005,1)" font-size="41.80" text-anchor="end">0.00005</text>
<text transform="translate(321.30,825.18) scale(1.1005,1)" font-size="41.80" text-anchor="end">0.00010</text>
<text transform="translate(321.30,631.15) scale(1.1005,1)" font-size="41.80" text-anchor="end">0.00015</text>
<text transform="translate(321.30,437.12) scale(1.1005,1)" font-size="41.80" text-anchor="end">0.00020</text>
<text transform="translate(321.30,243.08) scale(1.1005,1)" font-size="41.80" text-anchor="end">0.00025</text>
<text transform="translate(321.30,49.05) scale(1.1005,1)" font-size="41.80" text-anchor="end">0.00030</text>
<text transform="translate(1362.67,1292.50) scale(1.1187,1)" font-size="41.20" text-anchor="middle">Wavelength(nm)</text>
<text transform="translate(54.50,614.95) rotate(-90) scale(1,1.0900)" font-size="42.00" text-anchor="middle">ResPan Radiance</text>
<text transform="translate(110.00,796.40) rotate(-90) scale(1,1.0926)" font-size="41.9"><tspan x="0" y="0">(W</tspan><tspan x="64.6" y="0">m</tspan><tspan x="106.1" y="-15.2" font-size="29.4">−2</tspan><tspan x="157" y="0">nm</tspan><tspan x="225.3" y="-15.2" font-size="29.4">−1</tspan><tspan x="276.2" y="0">sr</tspan><tspan x="315.5" y="-15.2" font-size="29.4">−1</tspan><tspan x="360.4" y="0">)</tspan></text>
<rect x="360.8" y="53.7" width="832.3" height="136.0" rx="9" ry="8.4" fill="#fff" fill-opacity="0.8" stroke="#cccccc" stroke-opacity="0.8" stroke-width="2.1"/>
<g transform="scale(1.0900,1)" fill="none" stroke-width="3.4" stroke-dasharray="20.16 5.04 3.15 5.04"><path d="M347.71 87.8H432.20" stroke="#ff0000"/><path d="M347.71 149.5H432.20" stroke="#0000ff"/></g>
<text transform="translate(507.60,102.00) scale(1.0986,1)" font-size="41.80" text-anchor="start">UTC=19.8, LT=7.1,SZA=94.0</text>
<text transform="translate(507.60,163.70) scale(1.0986,1)" font-size="41.80" text-anchor="start">UTC=5.5, LT=16.8,SZA=94.0</text>
</svg></body></html>
